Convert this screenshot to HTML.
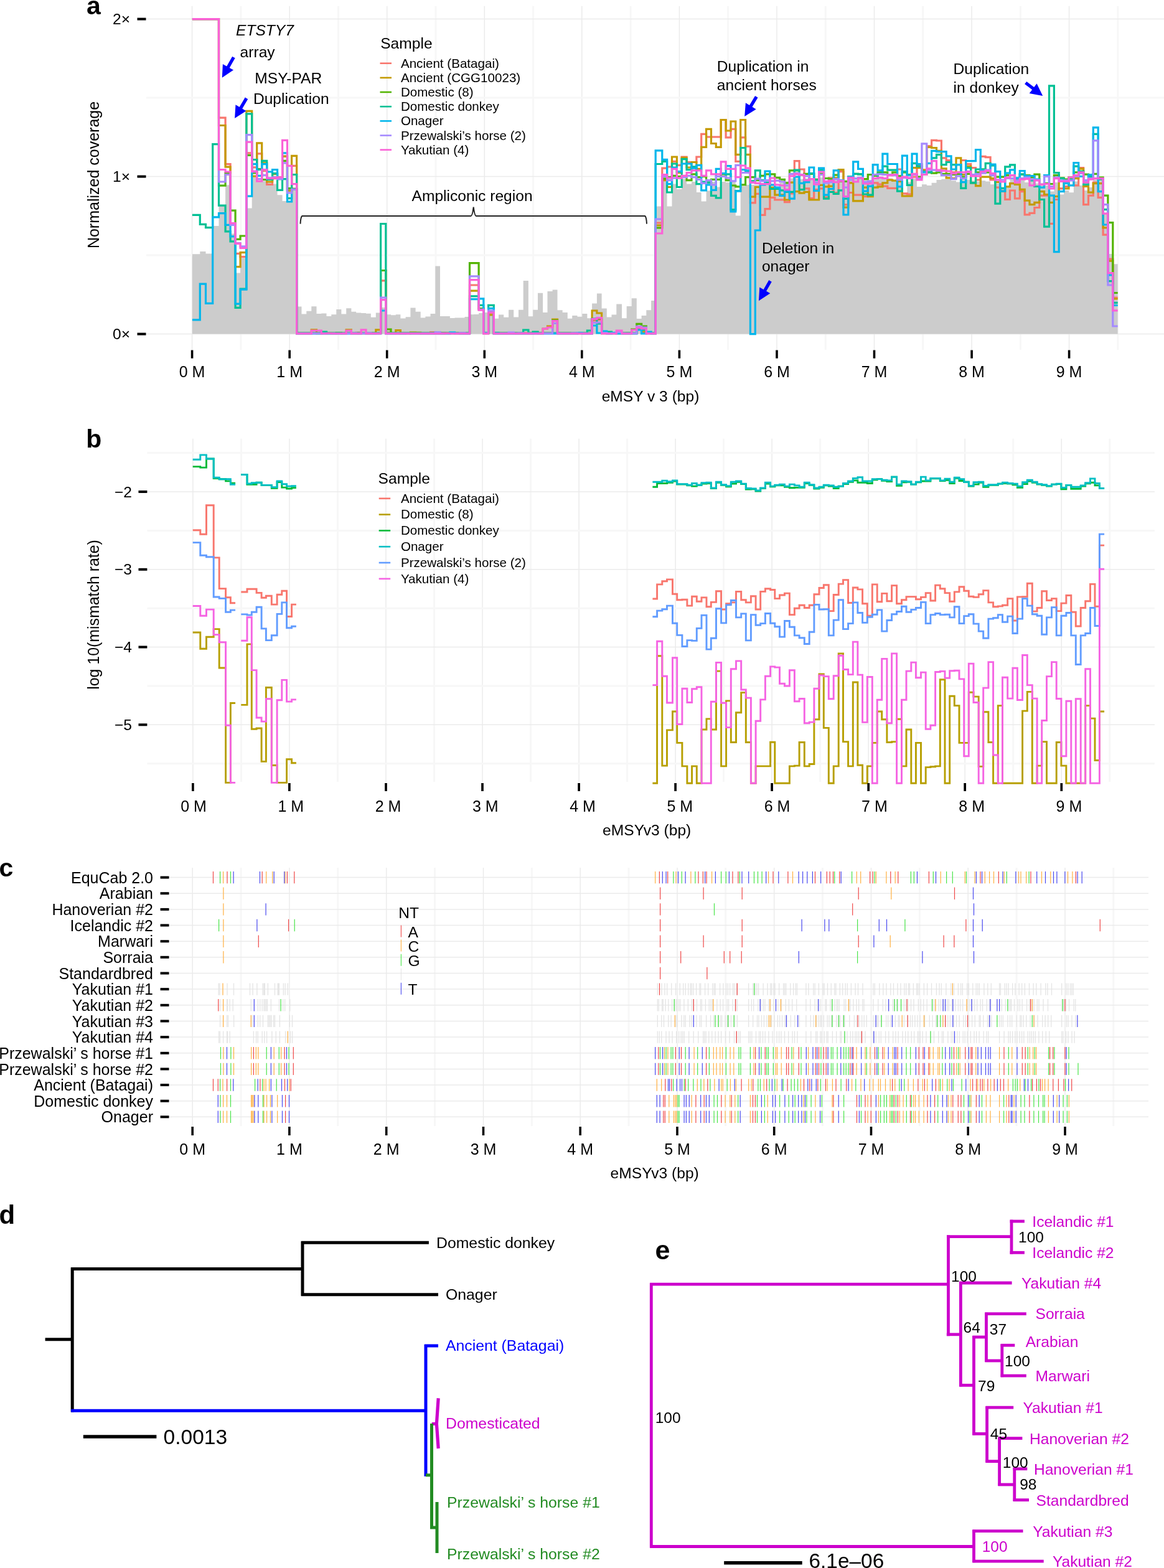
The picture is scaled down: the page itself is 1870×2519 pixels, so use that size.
<!DOCTYPE html>
<html><head><meta charset="utf-8"><title>Figure</title>
<style>html,body{margin:0;padding:0;background:#fff;overflow:hidden;}svg{display:block;}
text{font-family:'Liberation Sans', Arial, Helvetica, sans-serif;}</style></head>
<body><svg width="1870" height="2519" viewBox="0 0 1870 2519">
<rect width="1870" height="2519" fill="#fff"/>
<line x1="308.6" y1="9.7" x2="308.6" y2="562" stroke="#EBEBEB" stroke-width="1.5" />
<line x1="386.9" y1="9.7" x2="386.9" y2="562" stroke="#F7F7F7" stroke-width="3" />
<line x1="465.2" y1="9.7" x2="465.2" y2="562" stroke="#EBEBEB" stroke-width="1.5" />
<line x1="543.4" y1="9.7" x2="543.4" y2="562" stroke="#F7F7F7" stroke-width="3" />
<line x1="621.7" y1="9.7" x2="621.7" y2="562" stroke="#EBEBEB" stroke-width="1.5" />
<line x1="700" y1="9.7" x2="700" y2="562" stroke="#F7F7F7" stroke-width="3" />
<line x1="778.3" y1="9.7" x2="778.3" y2="562" stroke="#EBEBEB" stroke-width="1.5" />
<line x1="856.6" y1="9.7" x2="856.6" y2="562" stroke="#F7F7F7" stroke-width="3" />
<line x1="934.8" y1="9.7" x2="934.8" y2="562" stroke="#EBEBEB" stroke-width="1.5" />
<line x1="1013.1" y1="9.7" x2="1013.1" y2="562" stroke="#F7F7F7" stroke-width="3" />
<line x1="1091.4" y1="9.7" x2="1091.4" y2="562" stroke="#EBEBEB" stroke-width="1.5" />
<line x1="1169.7" y1="9.7" x2="1169.7" y2="562" stroke="#F7F7F7" stroke-width="3" />
<line x1="1248" y1="9.7" x2="1248" y2="562" stroke="#EBEBEB" stroke-width="1.5" />
<line x1="1326.2" y1="9.7" x2="1326.2" y2="562" stroke="#F7F7F7" stroke-width="3" />
<line x1="1404.5" y1="9.7" x2="1404.5" y2="562" stroke="#EBEBEB" stroke-width="1.5" />
<line x1="1482.8" y1="9.7" x2="1482.8" y2="562" stroke="#F7F7F7" stroke-width="3" />
<line x1="1561.1" y1="9.7" x2="1561.1" y2="562" stroke="#EBEBEB" stroke-width="1.5" />
<line x1="1639.4" y1="9.7" x2="1639.4" y2="562" stroke="#F7F7F7" stroke-width="3" />
<line x1="1717.6" y1="9.7" x2="1717.6" y2="562" stroke="#EBEBEB" stroke-width="1.5" />
<line x1="1795.9" y1="9.7" x2="1795.9" y2="562" stroke="#F7F7F7" stroke-width="3" />
<line x1="235" y1="536.6" x2="1870" y2="536.6" stroke="#EBEBEB" stroke-width="1.5" />
<line x1="235" y1="410.1" x2="1870" y2="410.1" stroke="#F7F7F7" stroke-width="3" />
<line x1="235" y1="283.6" x2="1870" y2="283.6" stroke="#EBEBEB" stroke-width="1.5" />
<line x1="235" y1="157.1" x2="1870" y2="157.1" stroke="#F7F7F7" stroke-width="3" />
<line x1="235" y1="30.6" x2="1870" y2="30.6" stroke="#EBEBEB" stroke-width="1.5" />
<path d="M308.9,536.6L308.9,408.3L321.3,408.3L321.3,403.9L330.5,403.9L330.5,407.4L341.7,407.4L341.7,363L351.5,363L351.5,331.1L362.1,331.1L362.1,297.3L370.1,297.3L370.1,375.5L378.1,375.5L378.1,438.5L386.1,438.5L386.1,414.5L395.9,414.5L395.9,334.6L404.7,334.6L404.7,284.9L412.7,284.9L412.7,290.2L420.7,290.2L420.7,290.2L428.7,290.2L428.7,292L437.6,292L437.6,295.6L445.6,295.6L445.6,313.3L453.6,313.3L453.6,323.1L461.5,323.1L461.5,324L468.6,324L468.6,300.9L476.6,300.9L476.6,368L478.2,368L478.2,492.6L484.5,492.6L484.5,504.4L492.3,504.4L492.3,499.8L500.3,499.8L500.3,492.2L508.5,492.2L508.5,504L516.3,504L516.3,503.5L524.5,503.5L524.5,508L532.3,508L532.3,505.3L540.3,505.3L540.3,497.1L548.4,497.1L548.4,504.4L556.2,504.4L556.2,495.3L564.4,495.3L564.4,500.8L572.2,500.8L572.2,502.6L580.2,502.6L580.2,503.1L588,503.1L588,503.8L595.8,503.8L595.8,509.8L603.8,509.8L603.8,502.6L611.6,502.6L611.6,494L619.8,494L619.8,505.3L628,505.3L628,506.2L635.8,506.2L635.8,505.3L643.4,505.3L643.4,511.6L651.6,511.6L651.6,509.3L659.4,509.3L659.4,494.4L667.6,494.4L667.6,500.8L675.7,500.8L675.7,510.4L683.4,510.4L683.4,508.6L691.5,508.6L691.5,504L699.3,504L699.3,427.6L707,427.6L707,508L715.1,508L715.1,508L722.9,508L722.9,511.1L730.6,511.1L730.6,510.4L738.7,510.4L738.7,510.4L746.5,510.4L746.5,508.9L754.5,508.9L754.5,505.3L761.3,505.3L761.3,505L769.1,505L769.1,503L776.8,503L776.8,502L784.6,502L784.6,504L793.3,504L793.3,511.7L801,511.7L801,505.5L809.2,505.5L809.2,509.8L817.1,509.8L817.1,497.8L825.2,497.8L825.2,509.4L833,509.4L833,497.8L840.7,497.8L840.7,450.9L848.9,450.9L848.9,508.2L856.2,508.2L856.2,497.8L864,497.8L864,470.7L872.1,470.7L872.1,502L879.5,502L879.5,468.1L887.6,468.1L887.6,465.6L895.5,465.6L895.5,498.2L903.7,498.2L903.7,502L911.8,502L911.8,511.7L919.2,511.7L919.2,506.9L927.5,506.9L927.5,508.8L935.3,508.8L935.3,504L943.4,504L943.4,511.3L951.1,511.3L951.1,487.5L958.9,487.5L958.9,471.4L966.6,471.4L966.6,495.4L974.8,495.4L974.8,509.4L982.5,509.4L982.5,505.5L990.3,505.5L990.3,488.5L999,488.5L999,511.3L1006.7,511.3L1006.7,492L1014.7,492L1014.7,479.2L1022.8,479.2L1022.8,512.1L1030.6,512.1L1030.6,506.9L1038.3,506.9L1038.3,498.2L1046.1,498.2L1046.1,483L1053.2,483L1053.2,331.4L1063.8,331.4L1063.8,284.7L1071.6,284.7L1071.6,331.4L1079.5,331.4L1079.5,295.6L1087.4,295.6L1087.4,304.1L1095.2,304.1L1095.2,287.2L1103.1,287.2L1103.1,295.6L1111,295.6L1111,292L1118.9,292L1118.9,309L1126.7,309L1126.7,323.5L1134.6,323.5L1134.6,306.5L1142.5,306.5L1142.5,292L1150.3,292L1150.3,300.5L1158.2,300.5L1158.2,292L1166.1,292L1166.1,293.2L1174,293.2L1174,292L1181.8,292L1181.8,346.5L1189.7,346.5L1189.7,299.3L1197.6,299.3L1197.6,297L1205.4,297L1205.4,297L1213.3,297L1213.3,297L1221.2,297L1221.2,297L1229,297L1229,297L1236.9,297L1236.9,297L1244.8,297L1244.8,301.1L1252.7,301.1L1252.7,293.8L1260.5,293.8L1260.5,291.4L1268.4,291.4L1268.4,286.5L1276.3,286.5L1276.3,286.5L1284.1,286.5L1284.1,287.7L1292,287.7L1292,289L1299.9,289L1299.9,289L1307.7,289L1307.7,286.5L1315.6,286.5L1315.6,285.3L1323.5,285.3L1323.5,292.6L1331.4,292.6L1331.4,289L1339.2,289L1339.2,286.5L1347.1,286.5L1347.1,289L1355,289L1355,291.4L1362.8,291.4L1362.8,286.5L1370.7,286.5L1370.7,285.3L1378.6,285.3L1378.6,286.5L1386.4,286.5L1386.4,289L1394.3,289L1394.3,289L1402.2,289L1402.2,285.3L1410.1,285.3L1410.1,284.1L1417.9,284.1L1417.9,285.3L1425.8,285.3L1425.8,286.5L1433.7,286.5L1433.7,290.2L1441.5,290.2L1441.5,290.2L1449.4,290.2L1449.4,312.6L1457.3,312.6L1457.3,292.6L1465.1,292.6L1465.1,286.5L1473,286.5L1473,299.9L1480.9,299.9L1480.9,296.2L1488.8,296.2L1488.8,298L1496.6,298L1496.6,293.8L1504.5,293.8L1504.5,289L1512.4,289L1512.4,287.7L1520.2,287.7L1520.2,287.7L1528.1,287.7L1528.1,290.2L1536,290.2L1536,292.6L1543.8,292.6L1543.8,287.7L1551.7,287.7L1551.7,289L1559.6,289L1559.6,290.2L1567.5,290.2L1567.5,291.4L1575.3,291.4L1575.3,290.2L1583.2,290.2L1583.2,291.4L1591.1,291.4L1591.1,296.2L1598.9,296.2L1598.9,295L1606.8,295L1606.8,301.1L1614.7,301.1L1614.7,301.1L1622.5,301.1L1622.5,288.2L1630.4,288.2L1630.4,289.8L1638.3,289.8L1638.3,289.8L1646.2,289.8L1646.2,293.1L1654,293.1L1654,291.4L1661.9,291.4L1661.9,294.7L1669.8,294.7L1669.8,296.3L1677.6,296.3L1677.6,297.9L1685.5,297.9L1685.5,307.6L1693.4,307.6L1693.4,293.1L1701.2,293.1L1701.2,312.5L1709.1,312.5L1709.1,306L1717,306L1717,309.2L1724.9,309.2L1724.9,291.4L1732.7,291.4L1732.7,297.9L1740.6,297.9L1740.6,306L1748.5,306L1748.5,301.1L1756.3,301.1L1756.3,288.2L1764.2,288.2L1764.2,289.8L1772.1,289.8L1772.1,343.2L1779.9,343.2L1779.9,407.9L1787.8,407.9L1787.8,424.2L1795.7,424.2L1795.7,536.6Z" fill="#CCCCCC"/>
<path d="M308.9,30.6L321.3,30.6L321.3,30.6L330.5,30.6L330.5,30.6L341.7,30.6L341.7,30.6L351.5,30.6L351.5,189.1L362.1,189.1L362.1,263.6L370.1,263.6L370.1,361.3L378.1,361.3L378.1,407.4L386.1,407.4L386.1,412.7L395.9,412.7L395.9,245.9L404.7,245.9L404.7,268.9L412.7,268.9L412.7,246.8L420.7,246.8L420.7,274.3L428.7,274.3L428.7,296.5L437.6,296.5L437.6,286.7L445.6,286.7L445.6,284.9L453.6,284.9L453.6,251.2L461.5,251.2L461.5,306.2L468.6,306.2L468.6,266.3L476.6,266.3L476.6,535.2L478.2,535.2L478.2,535.2L484.5,535.2L484.5,535.2L492.3,535.2L492.3,535.2L500.3,535.2L500.3,535.2L508.5,535.2L508.5,534.6L516.3,534.6L516.3,533.6L524.5,533.6L524.5,535.2L532.3,535.2L532.3,535.2L540.3,535.2L540.3,535.2L548.4,535.2L548.4,535.2L556.2,535.2L556.2,535.2L564.4,535.2L564.4,535.2L572.2,535.2L572.2,534.3L580.2,534.3L580.2,535.2L588,535.2L588,535.2L595.8,535.2L595.8,535.2L603.8,535.2L603.8,535.2L611.6,535.2L611.6,450.8L619.8,450.8L619.8,535.2L628,535.2L628,535.2L635.8,535.2L635.8,535.2L643.4,535.2L643.4,535.2L651.6,535.2L651.6,535.2L659.4,535.2L659.4,535.2L667.6,535.2L667.6,534.8L675.7,534.8L675.7,535.2L683.4,535.2L683.4,535.2L691.5,535.2L691.5,533.9L699.3,533.9L699.3,535.2L707,535.2L707,534.5L715.1,534.5L715.1,535.2L722.9,535.2L722.9,535.2L730.6,535.2L730.6,535.2L738.7,535.2L738.7,535.2L746.5,535.2L746.5,535.2L754.5,535.2L754.5,458L769.1,458L769.1,497L776.8,497L776.8,535.2L784.6,535.2L784.6,503L793.3,503L793.3,535.2L801,535.2L801,535.2L809.2,535.2L809.2,535.2L817.1,535.2L817.1,535.2L825.2,535.2L825.2,535.2L833,535.2L833,535.2L840.7,535.2L840.7,535.2L848.9,535.2L848.9,535.2L856.2,535.2L856.2,534L864,534L864,535.2L872.1,535.2L872.1,535.2L879.5,535.2L879.5,535.2L887.6,535.2L887.6,514.6L895.5,514.6L895.5,535.2L903.7,535.2L903.7,535.2L911.8,535.2L911.8,535.2L919.2,535.2L919.2,535.2L927.5,535.2L927.5,535.2L935.3,535.2L935.3,535.2L943.4,535.2L943.4,535.2L951.1,535.2L951.1,515L958.9,515L958.9,514L966.6,514L966.6,535.2L974.8,535.2L974.8,535.2L982.5,535.2L982.5,535.2L990.3,535.2L990.3,534.7L999,534.7L999,535.2L1006.7,535.2L1006.7,535.2L1014.7,535.2L1014.7,535.2L1022.8,535.2L1022.8,528L1030.6,528L1030.6,535.2L1038.3,535.2L1038.3,535.2L1046.1,535.2L1046.1,535.2L1053.2,535.2L1053.2,358L1063.8,358L1063.8,270.2L1071.6,270.2L1071.6,268L1079.5,268L1079.5,259.3L1087.4,259.3L1087.4,265.4L1095.2,265.4L1095.2,252L1103.1,252L1103.1,260.5L1111,260.5L1111,260.5L1118.9,260.5L1118.9,252L1126.7,252L1126.7,215.3L1134.6,215.3L1134.6,220L1142.5,220L1142.5,220L1150.3,220L1150.3,220L1158.2,220L1158.2,192.5L1166.1,192.5L1166.1,220.8L1174,220.8L1174,207.4L1181.8,207.4L1181.8,259.3L1189.7,259.3L1189.7,220.8L1197.6,220.8L1197.6,235.1L1205.4,235.1L1205.4,325.9L1213.3,325.9L1213.3,311.4L1221.2,311.4L1221.2,345.3L1229,345.3L1229,335.6L1236.9,335.6L1236.9,317.4L1244.8,317.4L1244.8,321L1252.7,321L1252.7,321L1260.5,321L1260.5,324.7L1268.4,324.7L1268.4,310.8L1276.3,310.8L1276.3,258.7L1284.1,258.7L1284.1,272L1292,272L1292,302.9L1299.9,302.9L1299.9,318.6L1307.7,318.6L1307.7,304.7L1315.6,304.7L1315.6,302.9L1323.5,302.9L1323.5,316.8L1331.4,316.8L1331.4,285.9L1339.2,285.9L1339.2,309.5L1347.1,309.5L1347.1,275.6L1355,275.6L1355,328.9L1362.8,328.9L1362.8,309.5L1370.7,309.5L1370.7,313.2L1378.6,313.2L1378.6,313.2L1386.4,313.2L1386.4,315.6L1394.3,315.6L1394.3,293.8L1402.2,293.8L1402.2,293.8L1410.1,293.8L1410.1,296.2L1417.9,296.2L1417.9,299.2L1425.8,299.2L1425.8,302.3L1433.7,302.3L1433.7,302.3L1441.5,302.3L1441.5,272L1449.4,272L1449.4,310.8L1457.3,310.8L1457.3,312L1465.1,312L1465.1,284.1L1473,284.1L1473,264.7L1480.9,264.7L1480.9,273.2L1488.8,273.2L1488.8,234.5L1496.6,234.5L1496.6,225.4L1504.5,225.4L1504.5,226L1512.4,226L1512.4,253.8L1520.2,253.8L1520.2,257.5L1528.1,257.5L1528.1,276.9L1536,276.9L1536,276.9L1543.8,276.9L1543.8,257.5L1551.7,257.5L1551.7,263.5L1559.6,263.5L1559.6,269.6L1567.5,269.6L1567.5,289L1575.3,289L1575.3,251.4L1583.2,251.4L1583.2,252.6L1591.1,252.6L1591.1,289L1598.9,289L1598.9,301.1L1606.8,301.1L1606.8,307.1L1614.7,307.1L1614.7,320.4L1622.5,320.4L1622.5,306L1630.4,306L1630.4,318.9L1638.3,318.9L1638.3,307.6L1646.2,307.6L1646.2,344.8L1654,344.8L1654,342.4L1661.9,342.4L1661.9,333.5L1669.8,333.5L1669.8,314.1L1677.6,314.1L1677.6,314.1L1685.5,314.1L1685.5,359.4L1693.4,359.4L1693.4,320.5L1701.2,320.5L1701.2,302.8L1709.1,302.8L1709.1,299.5L1717,299.5L1717,285L1724.9,285L1724.9,297.9L1732.7,297.9L1732.7,269.6L1740.6,269.6L1740.6,328.6L1748.5,328.6L1748.5,314.1L1756.3,314.1L1756.3,293.1L1764.2,293.1L1764.2,317.3L1772.1,317.3L1772.1,377.2L1779.9,377.2L1779.9,416L1787.8,416L1787.8,478L1795.7,478" fill="none" stroke="#F8766D" stroke-width="3.2" stroke-linejoin="miter"/>
<path d="M308.9,30.6L321.3,30.6L321.3,30.6L330.5,30.6L330.5,30.6L341.7,30.6L341.7,30.6L351.5,30.6L351.5,201.5L362.1,201.5L362.1,268.1L370.1,268.1L370.1,361.3L378.1,361.3L378.1,428.7L386.1,428.7L386.1,405.6L395.9,405.6L395.9,178.4L404.7,178.4L404.7,283.1L412.7,283.1L412.7,229.9L420.7,229.9L420.7,261.8L428.7,261.8L428.7,292L437.6,292L437.6,279.6L445.6,279.6L445.6,284.9L453.6,284.9L453.6,251.2L461.5,251.2L461.5,306.2L468.6,306.2L468.6,250.3L476.6,250.3L476.6,535.6L478.2,535.6L478.2,535.6L484.5,535.6L484.5,535.6L492.3,535.6L492.3,535.6L500.3,535.6L500.3,529.8L508.5,529.8L508.5,535.6L516.3,535.6L516.3,534.3L524.5,534.3L524.5,535.6L532.3,535.6L532.3,535.6L540.3,535.6L540.3,534.5L548.4,534.5L548.4,535.6L556.2,535.6L556.2,529.8L564.4,529.8L564.4,535.6L572.2,535.6L572.2,535.6L580.2,535.6L580.2,535.6L588,535.6L588,535.6L595.8,535.6L595.8,535.6L603.8,535.6L603.8,529.8L611.6,529.8L611.6,434.5L619.8,434.5L619.8,534.3L628,534.3L628,535.6L635.8,535.6L635.8,530.7L643.4,530.7L643.4,535.6L651.6,535.6L651.6,535.6L659.4,535.6L659.4,534.1L667.6,534.1L667.6,534.4L675.7,534.4L675.7,535.6L683.4,535.6L683.4,535.6L691.5,535.6L691.5,535.6L699.3,535.6L699.3,535.6L707,535.6L707,535.6L715.1,535.6L715.1,535.6L722.9,535.6L722.9,535.6L730.6,535.6L730.6,535.6L738.7,535.6L738.7,535.6L746.5,535.6L746.5,535.6L754.5,535.6L754.5,467.2L769.1,467.2L769.1,496L776.8,496L776.8,535.6L784.6,535.6L784.6,505.9L793.3,505.9L793.3,535.6L801,535.6L801,535.6L809.2,535.6L809.2,535.6L817.1,535.6L817.1,535.6L825.2,535.6L825.2,535.6L833,535.6L833,535.6L840.7,535.6L840.7,535.6L848.9,535.6L848.9,535.6L856.2,535.6L856.2,535.5L864,535.5L864,535.6L872.1,535.6L872.1,528L879.5,528L879.5,524L887.6,524L887.6,513L895.5,513L895.5,535.6L903.7,535.6L903.7,535.6L911.8,535.6L911.8,535.6L919.2,535.6L919.2,535.6L927.5,535.6L927.5,535.6L935.3,535.6L935.3,535.6L943.4,535.6L943.4,535.6L951.1,535.6L951.1,499L958.9,499L958.9,503L966.6,503L966.6,535.6L974.8,535.6L974.8,535.6L982.5,535.6L982.5,535.6L990.3,535.6L990.3,535.6L999,535.6L999,535.6L1006.7,535.6L1006.7,535.6L1014.7,535.6L1014.7,535.6L1022.8,535.6L1022.8,527L1030.6,527L1030.6,533L1038.3,533L1038.3,535.6L1046.1,535.6L1046.1,535.6L1053.2,535.6L1053.2,362L1063.8,362L1063.8,289.6L1071.6,289.6L1071.6,300.5L1079.5,300.5L1079.5,252L1087.4,252L1087.4,277.5L1095.2,277.5L1095.2,253.3L1103.1,253.3L1103.1,269L1111,269L1111,260.5L1118.9,260.5L1118.9,271.4L1126.7,271.4L1126.7,236.3L1134.6,236.3L1134.6,207.4L1142.5,207.4L1142.5,230.5L1150.3,230.5L1150.3,236.3L1158.2,236.3L1158.2,192.5L1166.1,192.5L1166.1,210L1174,210L1174,195L1181.8,195L1181.8,248.4L1189.7,248.4L1189.7,192.5L1197.6,192.5L1197.6,248.4L1205.4,248.4L1205.4,316.2L1213.3,316.2L1213.3,300.5L1221.2,300.5L1221.2,316.2L1229,316.2L1229,316.2L1236.9,316.2L1236.9,301.7L1244.8,301.7L1244.8,313.2L1252.7,313.2L1252.7,313.2L1260.5,313.2L1260.5,321L1268.4,321L1268.4,293.2L1276.3,293.2L1276.3,307.7L1284.1,307.7L1284.1,310.1L1292,310.1L1292,308.3L1299.9,308.3L1299.9,321L1307.7,321L1307.7,321L1315.6,321L1315.6,297.4L1323.5,297.4L1323.5,299.9L1331.4,299.9L1331.4,299.2L1339.2,299.2L1339.2,285.9L1347.1,285.9L1347.1,272.6L1355,272.6L1355,333.1L1362.8,333.1L1362.8,293.8L1370.7,293.8L1370.7,322.9L1378.6,322.9L1378.6,322.9L1386.4,322.9L1386.4,301.1L1394.3,301.1L1394.3,315.6L1402.2,315.6L1402.2,301.1L1410.1,301.1L1410.1,299.9L1417.9,299.9L1417.9,293.8L1425.8,293.8L1425.8,289L1433.7,289L1433.7,290.2L1441.5,290.2L1441.5,291.4L1449.4,291.4L1449.4,315L1457.3,315L1457.3,315L1465.1,315L1465.1,269.6L1473,269.6L1473,269.6L1480.9,269.6L1480.9,273.2L1488.8,273.2L1488.8,236.3L1496.6,236.3L1496.6,237.5L1504.5,237.5L1504.5,242.3L1512.4,242.3L1512.4,270.8L1520.2,270.8L1520.2,285.9L1528.1,285.9L1528.1,286.5L1536,286.5L1536,253.8L1543.8,253.8L1543.8,280.5L1551.7,280.5L1551.7,267.2L1559.6,267.2L1559.6,293.8L1567.5,293.8L1567.5,298.6L1575.3,298.6L1575.3,284.1L1583.2,284.1L1583.2,284.1L1591.1,284.1L1591.1,286.5L1598.9,286.5L1598.9,292.6L1606.8,292.6L1606.8,307.1L1614.7,307.1L1614.7,299.9L1622.5,299.9L1622.5,294.7L1630.4,294.7L1630.4,296.3L1638.3,296.3L1638.3,304.4L1646.2,304.4L1646.2,322.2L1654,322.2L1654,328.6L1661.9,328.6L1661.9,325.4L1669.8,325.4L1669.8,307.6L1677.6,307.6L1677.6,312.5L1685.5,312.5L1685.5,325.4L1693.4,325.4L1693.4,315.7L1701.2,315.7L1701.2,291.4L1709.1,291.4L1709.1,302.8L1717,302.8L1717,286.6L1724.9,286.6L1724.9,286.6L1732.7,286.6L1732.7,271.2L1740.6,271.2L1740.6,299.5L1748.5,299.5L1748.5,309.2L1756.3,309.2L1756.3,294.7L1764.2,294.7L1764.2,294.7L1772.1,294.7L1772.1,365.8L1779.9,365.8L1779.9,419.2L1787.8,419.2L1787.8,480L1795.7,480" fill="none" stroke="#C49A00" stroke-width="3.2" stroke-linejoin="miter"/>
<path d="M308.9,30.6L321.3,30.6L321.3,30.6L330.5,30.6L330.5,30.6L341.7,30.6L341.7,30.6L351.5,30.6L351.5,298.2L362.1,298.2L362.1,277.8L370.1,277.8L370.1,338.2L378.1,338.2L378.1,384.3L386.1,384.3L386.1,379L395.9,379L395.9,249.4L404.7,249.4L404.7,277.8L412.7,277.8L412.7,271.6L420.7,271.6L420.7,288.5L428.7,288.5L428.7,288.5L437.6,288.5L437.6,284.9L445.6,284.9L445.6,287.6L453.6,287.6L453.6,258.3L461.5,258.3L461.5,302.7L468.6,302.7L468.6,303.6L476.6,303.6L476.6,535.4L478.2,535.4L478.2,535.4L484.5,535.4L484.5,535.4L492.3,535.4L492.3,535.4L500.3,535.4L500.3,535.4L508.5,535.4L508.5,535.4L516.3,535.4L516.3,535.4L524.5,535.4L524.5,535.4L532.3,535.4L532.3,535.4L540.3,535.4L540.3,534.5L548.4,534.5L548.4,535.4L556.2,535.4L556.2,535.4L564.4,535.4L564.4,535.4L572.2,535.4L572.2,535.4L580.2,535.4L580.2,535.4L588,535.4L588,535.4L595.8,535.4L595.8,535.4L603.8,535.4L603.8,535.4L611.6,535.4L611.6,434.5L619.8,434.5L619.8,529L628,529L628,535.4L635.8,535.4L635.8,535.4L643.4,535.4L643.4,535.4L651.6,535.4L651.6,535.4L659.4,535.4L659.4,535.4L667.6,535.4L667.6,535.4L675.7,535.4L675.7,535.4L683.4,535.4L683.4,535.4L691.5,535.4L691.5,535.4L699.3,535.4L699.3,535.4L707,535.4L707,535.4L715.1,535.4L715.1,535.4L722.9,535.4L722.9,535.4L730.6,535.4L730.6,535.4L738.7,535.4L738.7,535.4L746.5,535.4L746.5,535.4L754.5,535.4L754.5,422.6L769.1,422.6L769.1,495.5L776.8,495.5L776.8,535.4L784.6,535.4L784.6,501L793.3,501L793.3,535.4L801,535.4L801,535.4L809.2,535.4L809.2,535.4L817.1,535.4L817.1,535.4L825.2,535.4L825.2,535.4L833,535.4L833,535.4L840.7,535.4L840.7,535.4L848.9,535.4L848.9,535.4L856.2,535.4L856.2,535.4L864,535.4L864,535.4L872.1,535.4L872.1,535.4L879.5,535.4L879.5,535.4L887.6,535.4L887.6,514.6L895.5,514.6L895.5,535.4L903.7,535.4L903.7,535.4L911.8,535.4L911.8,535.4L919.2,535.4L919.2,535.4L927.5,535.4L927.5,535.4L935.3,535.4L935.3,535.4L943.4,535.4L943.4,535.4L951.1,535.4L951.1,513L958.9,513L958.9,512L966.6,512L966.6,535.4L974.8,535.4L974.8,535.4L982.5,535.4L982.5,535.4L990.3,535.4L990.3,535.4L999,535.4L999,535.4L1006.7,535.4L1006.7,535L1014.7,535L1014.7,529L1022.8,529L1022.8,520.4L1030.6,520.4L1030.6,524L1038.3,524L1038.3,535.4L1046.1,535.4L1046.1,535.4L1053.2,535.4L1053.2,366L1063.8,366L1063.8,287.2L1071.6,287.2L1071.6,284.7L1079.5,284.7L1079.5,282.3L1087.4,282.3L1087.4,283.5L1095.2,283.5L1095.2,283.5L1103.1,283.5L1103.1,289.6L1111,289.6L1111,279.9L1118.9,279.9L1118.9,284.7L1126.7,284.7L1126.7,283.5L1134.6,283.5L1134.6,293.2L1142.5,293.2L1142.5,288.4L1150.3,288.4L1150.3,288.4L1158.2,288.4L1158.2,279.9L1166.1,279.9L1166.1,289.6L1174,289.6L1174,298L1181.8,298L1181.8,299.9L1189.7,299.9L1189.7,296.9L1197.6,296.9L1197.6,284.7L1205.4,284.7L1205.4,284.7L1213.3,284.7L1213.3,289.6L1221.2,289.6L1221.2,282.3L1229,282.3L1229,279.9L1236.9,279.9L1236.9,279.9L1244.8,279.9L1244.8,285.3L1252.7,285.3L1252.7,288.4L1260.5,288.4L1260.5,293.8L1268.4,293.8L1268.4,273.8L1276.3,273.8L1276.3,273.8L1284.1,273.8L1284.1,281.1L1292,281.1L1292,279.3L1299.9,279.3L1299.9,279.3L1307.7,279.3L1307.7,288.4L1315.6,288.4L1315.6,279.3L1323.5,279.3L1323.5,286.5L1331.4,286.5L1331.4,287.7L1339.2,287.7L1339.2,281.1L1347.1,281.1L1347.1,291.4L1355,291.4L1355,291.4L1362.8,291.4L1362.8,284.1L1370.7,284.1L1370.7,279.3L1378.6,279.3L1378.6,279.9L1386.4,279.9L1386.4,287.7L1394.3,287.7L1394.3,280.5L1402.2,280.5L1402.2,282.3L1410.1,282.3L1410.1,276.9L1417.9,276.9L1417.9,276.9L1425.8,276.9L1425.8,280.5L1433.7,280.5L1433.7,276.9L1441.5,276.9L1441.5,282.9L1449.4,282.9L1449.4,276.9L1457.3,276.9L1457.3,280.5L1465.1,280.5L1465.1,280.5L1473,280.5L1473,284.1L1480.9,284.1L1480.9,280.5L1488.8,280.5L1488.8,276.9L1496.6,276.9L1496.6,278.1L1504.5,278.1L1504.5,276.9L1512.4,276.9L1512.4,279.3L1520.2,279.3L1520.2,279.3L1528.1,279.3L1528.1,280.5L1536,280.5L1536,279.3L1543.8,279.3L1543.8,284.1L1551.7,284.1L1551.7,279.3L1559.6,279.3L1559.6,280.5L1567.5,280.5L1567.5,276.9L1575.3,276.9L1575.3,272L1583.2,272L1583.2,276.9L1591.1,276.9L1591.1,281.7L1598.9,281.7L1598.9,284.1L1606.8,284.1L1606.8,284.1L1614.7,284.1L1614.7,281.7L1622.5,281.7L1622.5,281.7L1630.4,281.7L1630.4,288.2L1638.3,288.2L1638.3,280.1L1646.2,280.1L1646.2,281.7L1654,281.7L1654,285L1661.9,285L1661.9,280.1L1669.8,280.1L1669.8,296.3L1677.6,296.3L1677.6,294.7L1685.5,294.7L1685.5,295.5L1693.4,295.5L1693.4,281.7L1701.2,281.7L1701.2,285.8L1709.1,285.8L1709.1,288.2L1717,288.2L1717,285L1724.9,285L1724.9,276.9L1732.7,276.9L1732.7,275.3L1740.6,275.3L1740.6,280.1L1748.5,280.1L1748.5,281.7L1756.3,281.7L1756.3,279.3L1764.2,279.3L1764.2,285L1772.1,285L1772.1,314.1L1779.9,314.1L1779.9,357.7L1787.8,357.7L1787.8,470.5L1795.7,470.5" fill="none" stroke="#53B400" stroke-width="3.2" stroke-linejoin="miter"/>
<path d="M308.9,345.3L321.3,345.3L321.3,360.4L330.5,360.4L330.5,365.7L341.7,365.7L341.7,231.7L351.5,231.7L351.5,330.2L362.1,330.2L362.1,371.9L370.1,371.9L370.1,387.9L378.1,387.9L378.1,494.4L386.1,494.4L386.1,464.2L395.9,464.2L395.9,182.8L404.7,182.8L404.7,256.5L412.7,256.5L412.7,272.5L420.7,272.5L420.7,258.3L428.7,258.3L428.7,288.5L437.6,288.5L437.6,278.7L445.6,278.7L445.6,305.3L453.6,305.3L453.6,287.6L461.5,287.6L461.5,318.6L468.6,318.6L468.6,280.5L476.6,280.5L476.6,535L478.2,535L478.2,535L484.5,535L484.5,535L492.3,535L492.3,535L500.3,535L500.3,535L508.5,535L508.5,535L516.3,535L516.3,533.1L524.5,533.1L524.5,535L532.3,535L532.3,535L540.3,535L540.3,535L548.4,535L548.4,535L556.2,535L556.2,535L564.4,535L564.4,535L572.2,535L572.2,535L580.2,535L580.2,535L588,535L588,535L595.8,535L595.8,535L603.8,535L603.8,535L611.6,535L611.6,359.5L619.8,359.5L619.8,535L628,535L628,535L635.8,535L635.8,535L643.4,535L643.4,535L651.6,535L651.6,535L659.4,535L659.4,535L667.6,535L667.6,535L675.7,535L675.7,535L683.4,535L683.4,535L691.5,535L691.5,535L699.3,535L699.3,534.3L707,534.3L707,535L715.1,535L715.1,535L722.9,535L722.9,535L730.6,535L730.6,535L738.7,535L738.7,535L746.5,535L746.5,535L754.5,535L754.5,475.9L769.1,475.9L769.1,490.4L776.8,490.4L776.8,535L784.6,535L784.6,490.4L793.3,490.4L793.3,534.6L801,534.6L801,535L809.2,535L809.2,535L817.1,535L817.1,535L825.2,535L825.2,535L833,535L833,535L840.7,535L840.7,530L848.9,530L848.9,535L856.2,535L856.2,533.1L864,533.1L864,535L872.1,535L872.1,535L879.5,535L879.5,535L887.6,535L887.6,535L895.5,535L895.5,535L903.7,535L903.7,535L911.8,535L911.8,535L919.2,535L919.2,535L927.5,535L927.5,535L935.3,535L935.3,535L943.4,535L943.4,531L951.1,531L951.1,512L958.9,512L958.9,520L966.6,520L966.6,535L974.8,535L974.8,533.2L982.5,533.2L982.5,535L990.3,535L990.3,535L999,535L999,535L1006.7,535L1006.7,535L1014.7,535L1014.7,535L1022.8,535L1022.8,526L1030.6,526L1030.6,530L1038.3,530L1038.3,535L1046.1,535L1046.1,535L1053.2,535L1053.2,263.5L1063.8,263.5L1063.8,259.3L1071.6,259.3L1071.6,309L1079.5,309L1079.5,263L1087.4,263L1087.4,300.5L1095.2,300.5L1095.2,255.7L1103.1,255.7L1103.1,272.6L1111,272.6L1111,267.8L1118.9,267.8L1118.9,295.6L1126.7,295.6L1126.7,292L1134.6,292L1134.6,293.2L1142.5,293.2L1142.5,314.4L1150.3,314.4L1150.3,318L1158.2,318L1158.2,283.5L1166.1,283.5L1166.1,279.9L1174,279.9L1174,336.8L1181.8,336.8L1181.8,306.5L1189.7,306.5L1189.7,237.5L1197.6,237.5L1197.6,275L1205.4,275L1205.4,290.8L1213.3,290.8L1213.3,273.8L1221.2,273.8L1221.2,289.6L1229,289.6L1229,293.2L1236.9,293.2L1236.9,303.5L1244.8,303.5L1244.8,303.5L1252.7,303.5L1252.7,305.9L1260.5,305.9L1260.5,308.3L1268.4,308.3L1268.4,308.3L1276.3,308.3L1276.3,273.2L1284.1,273.2L1284.1,304.7L1292,304.7L1292,289L1299.9,289L1299.9,278.7L1307.7,278.7L1307.7,289L1315.6,289L1315.6,273.2L1323.5,273.2L1323.5,319.2L1331.4,319.2L1331.4,308.3L1339.2,308.3L1339.2,311.4L1347.1,311.4L1347.1,305.9L1355,305.9L1355,319.2L1362.8,319.2L1362.8,284.1L1370.7,284.1L1370.7,279.3L1378.6,279.3L1378.6,279.9L1386.4,279.9L1386.4,312L1394.3,312L1394.3,313.2L1402.2,313.2L1402.2,286.5L1410.1,286.5L1410.1,278.7L1417.9,278.7L1417.9,267.2L1425.8,267.2L1425.8,273.2L1433.7,273.2L1433.7,273.2L1441.5,273.2L1441.5,307.1L1449.4,307.1L1449.4,275.6L1457.3,275.6L1457.3,297.4L1465.1,297.4L1465.1,262.3L1473,262.3L1473,267.2L1480.9,267.2L1480.9,275.6L1488.8,275.6L1488.8,276.9L1496.6,276.9L1496.6,253.8L1504.5,253.8L1504.5,248.4L1512.4,248.4L1512.4,264.7L1520.2,264.7L1520.2,260.5L1528.1,260.5L1528.1,264.7L1536,264.7L1536,264.7L1543.8,264.7L1543.8,302.3L1551.7,302.3L1551.7,269.6L1559.6,269.6L1559.6,293.8L1567.5,293.8L1567.5,272L1575.3,272L1575.3,272L1583.2,272L1583.2,262.3L1591.1,262.3L1591.1,266L1598.9,266L1598.9,327.1L1606.8,327.1L1606.8,302.3L1614.7,302.3L1614.7,267.8L1622.5,267.8L1622.5,264.8L1630.4,264.8L1630.4,288.2L1638.3,288.2L1638.3,280.1L1646.2,280.1L1646.2,283.4L1654,283.4L1654,289.8L1661.9,289.8L1661.9,299.5L1669.8,299.5L1669.8,320.5L1677.6,320.5L1677.6,364.2L1685.5,364.2L1685.5,137.8L1693.4,137.8L1693.4,277.7L1701.2,277.7L1701.2,286.6L1709.1,286.6L1709.1,289.8L1717,289.8L1717,288.2L1724.9,288.2L1724.9,267.2L1732.7,267.2L1732.7,275.3L1740.6,275.3L1740.6,296.3L1748.5,296.3L1748.5,283.4L1756.3,283.4L1756.3,215.4L1764.2,215.4L1764.2,288.2L1772.1,288.2L1772.1,336.7L1779.9,336.7L1779.9,451.6L1787.8,451.6L1787.8,486.3L1795.7,486.3" fill="none" stroke="#00C094" stroke-width="3.2" stroke-linejoin="miter"/>
<path d="M308.9,513.9L321.3,513.9L321.3,456.2L330.5,456.2L330.5,487.3L341.7,487.3L341.7,348.8L351.5,348.8L351.5,342.6L362.1,342.6L362.1,361.3L370.1,361.3L370.1,379.9L378.1,379.9L378.1,488.2L386.1,488.2L386.1,465.1L395.9,465.1L395.9,315.1L404.7,315.1L404.7,263.6L412.7,263.6L412.7,282.3L420.7,282.3L420.7,263.6L428.7,263.6L428.7,276L437.6,276L437.6,272.5L445.6,272.5L445.6,286.7L453.6,286.7L453.6,245.9L461.5,245.9L461.5,324L468.6,324L468.6,304.4L476.6,304.4L476.6,535.8L478.2,535.8L478.2,535.8L484.5,535.8L484.5,535.8L492.3,535.8L492.3,535.8L500.3,535.8L500.3,535.8L508.5,535.8L508.5,535.8L516.3,535.8L516.3,535.8L524.5,535.8L524.5,535.8L532.3,535.8L532.3,535.8L540.3,535.8L540.3,535.8L548.4,535.8L548.4,535.8L556.2,535.8L556.2,535.8L564.4,535.8L564.4,535.8L572.2,535.8L572.2,535.8L580.2,535.8L580.2,535.7L588,535.7L588,535.8L595.8,535.8L595.8,535.8L603.8,535.8L603.8,535.8L611.6,535.8L611.6,499L619.8,499L619.8,535.8L628,535.8L628,535.8L635.8,535.8L635.8,535.8L643.4,535.8L643.4,535.8L651.6,535.8L651.6,535.6L659.4,535.6L659.4,535.8L667.6,535.8L667.6,535.8L675.7,535.8L675.7,535.8L683.4,535.8L683.4,535.8L691.5,535.8L691.5,535.8L699.3,535.8L699.3,535.8L707,535.8L707,535.8L715.1,535.8L715.1,535.8L722.9,535.8L722.9,534L730.6,534L730.6,535.6L738.7,535.6L738.7,535.8L746.5,535.8L746.5,535.8L754.5,535.8L754.5,480.7L769.1,480.7L769.1,479.8L776.8,479.8L776.8,535.2L784.6,535.2L784.6,495.3L793.3,495.3L793.3,535.8L801,535.8L801,535.8L809.2,535.8L809.2,535.8L817.1,535.8L817.1,535.8L825.2,535.8L825.2,535.8L833,535.8L833,535.8L840.7,535.8L840.7,535.8L848.9,535.8L848.9,535.8L856.2,535.8L856.2,535.8L864,535.8L864,535.8L872.1,535.8L872.1,535.8L879.5,535.8L879.5,535.8L887.6,535.8L887.6,535.8L895.5,535.8L895.5,535.8L903.7,535.8L903.7,535.8L911.8,535.8L911.8,535.8L919.2,535.8L919.2,535.8L927.5,535.8L927.5,534.8L935.3,534.8L935.3,535.8L943.4,535.8L943.4,535.8L951.1,535.8L951.1,523L958.9,523L958.9,535L966.6,535L966.6,532L974.8,532L974.8,535.8L982.5,535.8L982.5,534.5L990.3,534.5L990.3,535.8L999,535.8L999,535.8L1006.7,535.8L1006.7,535.8L1014.7,535.8L1014.7,535.8L1022.8,535.8L1022.8,530L1030.6,530L1030.6,535.8L1038.3,535.8L1038.3,533L1046.1,533L1046.1,535.8L1053.2,535.8L1053.2,241.8L1063.8,241.8L1063.8,256.3L1071.6,256.3L1071.6,295.6L1079.5,295.6L1079.5,269L1087.4,269L1087.4,275.7L1095.2,275.7L1095.2,263L1103.1,263L1103.1,263L1111,263L1111,270.2L1118.9,270.2L1118.9,265.4L1126.7,265.4L1126.7,305.9L1134.6,305.9L1134.6,296.9L1142.5,296.9L1142.5,305.3L1150.3,305.3L1150.3,271.4L1158.2,271.4L1158.2,278.7L1166.1,278.7L1166.1,266.6L1174,266.6L1174,339.8L1181.8,339.8L1181.8,307.1L1189.7,307.1L1189.7,272.6L1197.6,272.6L1197.6,273.8L1205.4,273.8L1205.4,536.6L1213.3,536.6L1213.3,370L1221.2,370L1221.2,296.9L1229,296.9L1229,275L1236.9,275L1236.9,296.9L1244.8,296.9L1244.8,301.1L1252.7,301.1L1252.7,314.4L1260.5,314.4L1260.5,307.1L1268.4,307.1L1268.4,319.2L1276.3,319.2L1276.3,284.1L1284.1,284.1L1284.1,294.4L1292,294.4L1292,292.6L1299.9,292.6L1299.9,269L1307.7,269L1307.7,306.5L1315.6,306.5L1315.6,270.2L1323.5,270.2L1323.5,313.2L1331.4,313.2L1331.4,303.5L1339.2,303.5L1339.2,273.8L1347.1,273.8L1347.1,289.6L1355,289.6L1355,345L1362.8,345L1362.8,284.1L1370.7,284.1L1370.7,259.9L1378.6,259.9L1378.6,271.4L1386.4,271.4L1386.4,307.1L1394.3,307.1L1394.3,299.2L1402.2,299.2L1402.2,264.7L1410.1,264.7L1410.1,273.8L1417.9,273.8L1417.9,247.2L1425.8,247.2L1425.8,263.5L1433.7,263.5L1433.7,263.5L1441.5,263.5L1441.5,299.9L1449.4,299.9L1449.4,250.2L1457.3,250.2L1457.3,281.7L1465.1,281.7L1465.1,247.2L1473,247.2L1473,263.5L1480.9,263.5L1480.9,276.9L1488.8,276.9L1488.8,262.3L1496.6,262.3L1496.6,242.3L1504.5,242.3L1504.5,243.6L1512.4,243.6L1512.4,243.6L1520.2,243.6L1520.2,250.8L1528.1,250.8L1528.1,272L1536,272L1536,264.7L1543.8,264.7L1543.8,292.6L1551.7,292.6L1551.7,258.7L1559.6,258.7L1559.6,258.7L1567.5,258.7L1567.5,240.5L1575.3,240.5L1575.3,274.4L1583.2,274.4L1583.2,274.4L1591.1,274.4L1591.1,264.1L1598.9,264.1L1598.9,275.6L1606.8,275.6L1606.8,307.1L1614.7,307.1L1614.7,278.1L1622.5,278.1L1622.5,272.8L1630.4,272.8L1630.4,285.8L1638.3,285.8L1638.3,274.5L1646.2,274.5L1646.2,282.5L1654,282.5L1654,282.5L1661.9,282.5L1661.9,288.2L1669.8,288.2L1669.8,301.1L1677.6,301.1L1677.6,281.7L1685.5,281.7L1685.5,314.1L1693.4,314.1L1693.4,404.7L1701.2,404.7L1701.2,307.6L1709.1,307.6L1709.1,294.7L1717,294.7L1717,297.9L1724.9,297.9L1724.9,261.5L1732.7,261.5L1732.7,283.4L1740.6,283.4L1740.6,289.8L1748.5,289.8L1748.5,280.9L1756.3,280.9L1756.3,204.9L1764.2,204.9L1764.2,307.6L1772.1,307.6L1772.1,361L1779.9,361L1779.9,441.9L1787.8,441.9L1787.8,490.5L1795.7,490.5" fill="none" stroke="#00B6EB" stroke-width="3.2" stroke-linejoin="miter"/>
<path d="M308.9,30.6L321.3,30.6L321.3,30.6L330.5,30.6L330.5,30.6L341.7,30.6L341.7,30.6L351.5,30.6L351.5,292L362.1,292L362.1,280.5L370.1,280.5L370.1,361.3L378.1,361.3L378.1,390.5L386.1,390.5L386.1,395.9L395.9,395.9L395.9,216.6L404.7,216.6L404.7,276L412.7,276L412.7,287.6L420.7,287.6L420.7,281.4L428.7,281.4L428.7,285.8L437.6,285.8L437.6,284.9L445.6,284.9L445.6,287.6L453.6,287.6L453.6,261.8L461.5,261.8L461.5,309.8L468.6,309.8L468.6,304.4L476.6,304.4L476.6,535.7L478.2,535.7L478.2,535.7L484.5,535.7L484.5,535.7L492.3,535.7L492.3,535.7L500.3,535.7L500.3,535.7L508.5,535.7L508.5,535.7L516.3,535.7L516.3,535.7L524.5,535.7L524.5,535.7L532.3,535.7L532.3,535.7L540.3,535.7L540.3,535.7L548.4,535.7L548.4,535.7L556.2,535.7L556.2,535.7L564.4,535.7L564.4,535.1L572.2,535.1L572.2,535.7L580.2,535.7L580.2,535.7L588,535.7L588,534.8L595.8,534.8L595.8,535.7L603.8,535.7L603.8,535.5L611.6,535.5L611.6,478L619.8,478L619.8,535.7L628,535.7L628,535.7L635.8,535.7L635.8,535.7L643.4,535.7L643.4,535.7L651.6,535.7L651.6,535.7L659.4,535.7L659.4,535.7L667.6,535.7L667.6,535.7L675.7,535.7L675.7,535.7L683.4,535.7L683.4,535.7L691.5,535.7L691.5,535.7L699.3,535.7L699.3,533.8L707,533.8L707,535.7L715.1,535.7L715.1,535.7L722.9,535.7L722.9,535.7L730.6,535.7L730.6,535.7L738.7,535.7L738.7,534.8L746.5,534.8L746.5,535.7L754.5,535.7L754.5,443.9L769.1,443.9L769.1,497L776.8,497L776.8,535.7L784.6,535.7L784.6,499.1L793.3,499.1L793.3,535.7L801,535.7L801,535.7L809.2,535.7L809.2,535.7L817.1,535.7L817.1,534.1L825.2,534.1L825.2,535.7L833,535.7L833,535.2L840.7,535.2L840.7,535.7L848.9,535.7L848.9,535.7L856.2,535.7L856.2,535.7L864,535.7L864,535.7L872.1,535.7L872.1,535.7L879.5,535.7L879.5,535.7L887.6,535.7L887.6,519.5L895.5,519.5L895.5,535.7L903.7,535.7L903.7,535.7L911.8,535.7L911.8,535.7L919.2,535.7L919.2,535.1L927.5,535.1L927.5,535.7L935.3,535.7L935.3,535.7L943.4,535.7L943.4,535.7L951.1,535.7L951.1,518.5L958.9,518.5L958.9,518L966.6,518L966.6,534.9L974.8,534.9L974.8,535.7L982.5,535.7L982.5,535.7L990.3,535.7L990.3,533.7L999,533.7L999,535.7L1006.7,535.7L1006.7,535.7L1014.7,535.7L1014.7,535.7L1022.8,535.7L1022.8,524.3L1030.6,524.3L1030.6,526L1038.3,526L1038.3,535.7L1046.1,535.7L1046.1,535.7L1053.2,535.7L1053.2,352L1063.8,352L1063.8,283.5L1071.6,283.5L1071.6,289.6L1079.5,289.6L1079.5,286L1087.4,286L1087.4,286L1095.2,286L1095.2,284.7L1103.1,284.7L1103.1,282.3L1111,282.3L1111,284.7L1118.9,284.7L1118.9,288.4L1126.7,288.4L1126.7,294.4L1134.6,294.4L1134.6,289.6L1142.5,289.6L1142.5,296.9L1150.3,296.9L1150.3,283.5L1158.2,283.5L1158.2,283.5L1166.1,283.5L1166.1,286L1174,286L1174,290.8L1181.8,290.8L1181.8,265.4L1189.7,265.4L1189.7,277.5L1197.6,277.5L1197.6,277.5L1205.4,277.5L1205.4,293.2L1213.3,293.2L1213.3,287.2L1221.2,287.2L1221.2,290.8L1229,290.8L1229,289.6L1236.9,289.6L1236.9,290.8L1244.8,290.8L1244.8,290.2L1252.7,290.2L1252.7,292L1260.5,292L1260.5,298L1268.4,298L1268.4,279.3L1276.3,279.3L1276.3,278.1L1284.1,278.1L1284.1,280.5L1292,280.5L1292,282.9L1299.9,282.9L1299.9,287.7L1307.7,287.7L1307.7,293.2L1315.6,293.2L1315.6,280.5L1323.5,280.5L1323.5,293.8L1331.4,293.8L1331.4,292.6L1339.2,292.6L1339.2,287.7L1347.1,287.7L1347.1,290.2L1355,290.2L1355,301.1L1362.8,301.1L1362.8,289L1370.7,289L1370.7,286.5L1378.6,286.5L1378.6,285.3L1386.4,285.3L1386.4,292.6L1394.3,292.6L1394.3,291.4L1402.2,291.4L1402.2,280.5L1410.1,280.5L1410.1,279.9L1417.9,279.9L1417.9,280.5L1425.8,280.5L1425.8,280.5L1433.7,280.5L1433.7,281.7L1441.5,281.7L1441.5,289L1449.4,289L1449.4,285.3L1457.3,285.3L1457.3,286.5L1465.1,286.5L1465.1,280.5L1473,280.5L1473,286.5L1480.9,286.5L1480.9,230.8L1488.8,230.8L1488.8,273.2L1496.6,273.2L1496.6,273.2L1504.5,273.2L1504.5,274.4L1512.4,274.4L1512.4,281.7L1520.2,281.7L1520.2,281.7L1528.1,281.7L1528.1,287.7L1536,287.7L1536,282.9L1543.8,282.9L1543.8,286.5L1551.7,286.5L1551.7,275.6L1559.6,275.6L1559.6,280.5L1567.5,280.5L1567.5,279.3L1575.3,279.3L1575.3,278.1L1583.2,278.1L1583.2,273.2L1591.1,273.2L1591.1,281.7L1598.9,281.7L1598.9,289L1606.8,289L1606.8,289L1614.7,289L1614.7,286.5L1622.5,286.5L1622.5,286.6L1630.4,286.6L1630.4,289.8L1638.3,289.8L1638.3,286.6L1646.2,286.6L1646.2,285L1654,285L1654,288.2L1661.9,288.2L1661.9,289L1669.8,289L1669.8,296.3L1677.6,296.3L1677.6,283.4L1685.5,283.4L1685.5,299.5L1693.4,299.5L1693.4,285L1701.2,285L1701.2,289.8L1709.1,289.8L1709.1,289.8L1717,289.8L1717,289.8L1724.9,289.8L1724.9,283.4L1732.7,283.4L1732.7,278.5L1740.6,278.5L1740.6,289.8L1748.5,289.8L1748.5,286.6L1756.3,286.6L1756.3,225.9L1764.2,225.9L1764.2,286.6L1772.1,286.6L1772.1,328.6L1779.9,328.6L1779.9,458L1787.8,458L1787.8,524L1795.7,524" fill="none" stroke="#A58AFF" stroke-width="3.2" stroke-linejoin="miter"/>
<path d="M308.9,30.6L321.3,30.6L321.3,30.6L330.5,30.6L330.5,30.6L341.7,30.6L341.7,30.6L351.5,30.6L351.5,272.5L362.1,272.5L362.1,276L370.1,276L370.1,358.6L378.1,358.6L378.1,391.4L386.1,391.4L386.1,398.5L395.9,398.5L395.9,228.1L404.7,228.1L404.7,275.2L412.7,275.2L412.7,291.1L420.7,291.1L420.7,272.5L428.7,272.5L428.7,286.7L437.6,286.7L437.6,285.8L445.6,285.8L445.6,284.9L453.6,284.9L453.6,225.4L461.5,225.4L461.5,266.3L468.6,266.3L468.6,295.6L476.6,295.6L476.6,536L478.2,536L478.2,536L484.5,536L484.5,536L492.3,536L492.3,536L500.3,536L500.3,531L508.5,531L508.5,531L516.3,531L516.3,536L524.5,536L524.5,535.5L532.3,535.5L532.3,536L540.3,536L540.3,536L548.4,536L548.4,536L556.2,536L556.2,531L564.4,531L564.4,536L572.2,536L572.2,536L580.2,536L580.2,529.8L588,529.8L588,536L595.8,536L595.8,536L603.8,536L603.8,536L611.6,536L611.6,481.7L619.8,481.7L619.8,536L628,536L628,536L635.8,536L635.8,536L643.4,536L643.4,536L651.6,536L651.6,536L659.4,536L659.4,536L667.6,536L667.6,536L675.7,536L675.7,536L683.4,536L683.4,536L691.5,536L691.5,536L699.3,536L699.3,536L707,536L707,536L715.1,536L715.1,535.5L722.9,535.5L722.9,536L730.6,536L730.6,536L738.7,536L738.7,536L746.5,536L746.5,536L754.5,536L754.5,449.7L769.1,449.7L769.1,498.2L776.8,498.2L776.8,536L784.6,536L784.6,502L793.3,502L793.3,536L801,536L801,536L809.2,536L809.2,536L817.1,536L817.1,536L825.2,536L825.2,536L833,536L833,536L840.7,536L840.7,535.6L848.9,535.6L848.9,536L856.2,536L856.2,536L864,536L864,536L872.1,536L872.1,528L879.5,528L879.5,526L887.6,526L887.6,515.6L895.5,515.6L895.5,536L903.7,536L903.7,536L911.8,536L911.8,536L919.2,536L919.2,536L927.5,536L927.5,536L935.3,536L935.3,536L943.4,536L943.4,536L951.1,536L951.1,512.7L958.9,512.7L958.9,510.7L966.6,510.7L966.6,536L974.8,536L974.8,536L982.5,536L982.5,536L990.3,536L990.3,531L999,531L999,536L1006.7,536L1006.7,536L1014.7,536L1014.7,530L1022.8,530L1022.8,526.2L1030.6,526.2L1030.6,528L1038.3,528L1038.3,536L1046.1,536L1046.1,536L1053.2,536L1053.2,375L1063.8,375L1063.8,280.5L1071.6,280.5L1071.6,286L1079.5,286L1079.5,271.4L1087.4,271.4L1087.4,286L1095.2,286L1095.2,282.3L1103.1,282.3L1103.1,277.5L1111,277.5L1111,273.8L1118.9,273.8L1118.9,273.8L1126.7,273.8L1126.7,282.3L1134.6,282.3L1134.6,273.8L1142.5,273.8L1142.5,279.9L1150.3,279.9L1150.3,279.9L1158.2,279.9L1158.2,259.9L1166.1,259.9L1166.1,271.4L1174,271.4L1174,271.4L1181.8,271.4L1181.8,284.7L1189.7,284.7L1189.7,266L1197.6,266L1197.6,270.2L1205.4,270.2L1205.4,293.2L1213.3,293.2L1213.3,294.4L1221.2,294.4L1221.2,295.6L1229,295.6L1229,295.6L1236.9,295.6L1236.9,286L1244.8,286L1244.8,296.8L1252.7,296.8L1252.7,298L1260.5,298L1260.5,304.7L1268.4,304.7L1268.4,282.9L1276.3,282.9L1276.3,279.9L1284.1,279.9L1284.1,281.1L1292,281.1L1292,289.6L1299.9,289.6L1299.9,287.7L1307.7,287.7L1307.7,296.2L1315.6,296.2L1315.6,276.2L1323.5,276.2L1323.5,291.4L1331.4,291.4L1331.4,290.2L1339.2,290.2L1339.2,292.6L1347.1,292.6L1347.1,290.8L1355,290.8L1355,315.6L1362.8,315.6L1362.8,285.3L1370.7,285.3L1370.7,292L1378.6,292L1378.6,286.5L1386.4,286.5L1386.4,295L1394.3,295L1394.3,295L1402.2,295L1402.2,286.5L1410.1,286.5L1410.1,285.3L1417.9,285.3L1417.9,286.5L1425.8,286.5L1425.8,281.7L1433.7,281.7L1433.7,280.5L1441.5,280.5L1441.5,285.9L1449.4,285.9L1449.4,284.1L1457.3,284.1L1457.3,285.9L1465.1,285.9L1465.1,279.3L1473,279.3L1473,289L1480.9,289L1480.9,280.5L1488.8,280.5L1488.8,270.8L1496.6,270.8L1496.6,258.7L1504.5,258.7L1504.5,273.2L1512.4,273.2L1512.4,274.4L1520.2,274.4L1520.2,275L1528.1,275L1528.1,278.7L1536,278.7L1536,276.9L1543.8,276.9L1543.8,276.9L1551.7,276.9L1551.7,276.2L1559.6,276.2L1559.6,282.9L1567.5,282.9L1567.5,282.9L1575.3,282.9L1575.3,275.6L1583.2,275.6L1583.2,274.4L1591.1,274.4L1591.1,278.7L1598.9,278.7L1598.9,289L1606.8,289L1606.8,292L1614.7,292L1614.7,285.3L1622.5,285.3L1622.5,281.7L1630.4,281.7L1630.4,293.1L1638.3,293.1L1638.3,288.2L1646.2,288.2L1646.2,287.4L1654,287.4L1654,297.9L1661.9,297.9L1661.9,289.8L1669.8,289.8L1669.8,296.3L1677.6,296.3L1677.6,295.5L1685.5,295.5L1685.5,302.8L1693.4,302.8L1693.4,286.6L1701.2,286.6L1701.2,291.4L1709.1,291.4L1709.1,291.4L1717,291.4L1717,285L1724.9,285L1724.9,281.7L1732.7,281.7L1732.7,276.9L1740.6,276.9L1740.6,293.1L1748.5,293.1L1748.5,288.2L1756.3,288.2L1756.3,286.6L1764.2,286.6L1764.2,286.6L1772.1,286.6L1772.1,343.2L1779.9,343.2L1779.9,438.6L1787.8,438.6L1787.8,498.9L1795.7,498.9" fill="none" stroke="#FB61D7" stroke-width="3.2" stroke-linejoin="miter"/>
<text x="379" y="56.9" font-size="24.6" text-anchor="start" fill="#000" font-style="italic">ETSTY7</text>
<text x="385.6" y="91.5" font-size="24.6" text-anchor="start" fill="#000" >array</text>
<text x="409.3" y="133.7" font-size="24.6" text-anchor="start" fill="#000" >MSY-PAR</text>
<text x="406.9" y="167" font-size="24.6" text-anchor="start" fill="#000" >Duplication</text>
<line x1="375.4" y1="92" x2="365.5" y2="109.5" stroke="#0000FF" stroke-width="5.2"/>
<polygon points="356.8,124.7 357.9,102.9 375,112.6" fill="#0000FF"/>
<line x1="396" y1="157.9" x2="386" y2="174.9" stroke="#0000FF" stroke-width="5.2"/>
<polygon points="377.1,190 378.5,168.2 395.4,178.2" fill="#0000FF"/>
<text x="661.5" y="323.2" font-size="24.6" text-anchor="start" fill="#000" >Ampliconic region</text>
<path d="M482.5,359.6 C482.8,352 483.2,348.5 485.5,346.9 L756.5,346.9 C759,346.9 760,338 760.7,332.7 C761.4,338 762.4,346.9 765,346.9 L1036,346.9 C1038.3,348.5 1038.7,352 1039,359.6" fill="none" stroke="#222" stroke-width="2"/>
<text x="1151.8" y="115.4" font-size="24.6" text-anchor="start" fill="#000" >Duplication in</text>
<text x="1151.8" y="145.4" font-size="24.6" text-anchor="start" fill="#000" >ancient horses</text>
<line x1="1215.3" y1="155.4" x2="1205.2" y2="172.1" stroke="#0000FF" stroke-width="5.2"/>
<polygon points="1196.2,187.1 1197.9,165.3 1214.7,175.5" fill="#0000FF"/>
<text x="1223.9" y="406.8" font-size="24.6" text-anchor="start" fill="#000" >Deletion in</text>
<text x="1223.9" y="436.3" font-size="24.6" text-anchor="start" fill="#000" >onager</text>
<line x1="1237.5" y1="451.4" x2="1227.8" y2="468.2" stroke="#0000FF" stroke-width="5.2"/>
<polygon points="1219,483.3 1220.3,461.5 1237.3,471.3" fill="#0000FF"/>
<text x="1531.5" y="119.1" font-size="24.6" text-anchor="start" fill="#000" >Duplication</text>
<text x="1531.5" y="149.1" font-size="24.6" text-anchor="start" fill="#000" >in donkey</text>
<line x1="1647.7" y1="133" x2="1661.3" y2="143.3" stroke="#0000FF" stroke-width="5.2"/>
<polygon points="1675.2,153.9 1653.7,149.9 1665.6,134.3" fill="#0000FF"/>
<text x="611.2" y="78.1" font-size="24.6" text-anchor="start" fill="#000" >Sample</text>
<line x1="610.5" y1="101.7" x2="629" y2="101.7" stroke="#F8766D" stroke-width="2.6" />
<text x="643.9" y="108.6" font-size="20.6" text-anchor="start" fill="#000" >Ancient (Batagai)</text>
<line x1="610.5" y1="124.9" x2="629" y2="124.9" stroke="#C49A00" stroke-width="2.6" />
<text x="643.9" y="131.8" font-size="20.6" text-anchor="start" fill="#000" >Ancient (CGG10023)</text>
<line x1="610.5" y1="148" x2="629" y2="148" stroke="#53B400" stroke-width="2.6" />
<text x="643.9" y="154.9" font-size="20.6" text-anchor="start" fill="#000" >Domestic (8)</text>
<line x1="610.5" y1="171.2" x2="629" y2="171.2" stroke="#00C094" stroke-width="2.6" />
<text x="643.9" y="178.1" font-size="20.6" text-anchor="start" fill="#000" >Domestic donkey</text>
<line x1="610.5" y1="194.4" x2="629" y2="194.4" stroke="#00B6EB" stroke-width="2.6" />
<text x="643.9" y="201.3" font-size="20.6" text-anchor="start" fill="#000" >Onager</text>
<line x1="610.5" y1="217.6" x2="629" y2="217.6" stroke="#A58AFF" stroke-width="2.6" />
<text x="643.9" y="224.5" font-size="20.6" text-anchor="start" fill="#000" >Przewalski&#8217;s horse (2)</text>
<line x1="610.5" y1="240.7" x2="629" y2="240.7" stroke="#FB61D7" stroke-width="2.6" />
<text x="643.9" y="247.6" font-size="20.6" text-anchor="start" fill="#000" >Yakutian (4)</text>
<line x1="220.5" y1="30.6" x2="234.5" y2="30.6" stroke="#000" stroke-width="4" />
<text x="209" y="39.2" font-size="24.6" text-anchor="end" fill="#000" >2&#215;</text>
<line x1="220.5" y1="283.6" x2="234.5" y2="283.6" stroke="#000" stroke-width="4" />
<text x="209" y="292.2" font-size="24.6" text-anchor="end" fill="#000" >1&#215;</text>
<line x1="220.5" y1="536.6" x2="234.5" y2="536.6" stroke="#000" stroke-width="4" />
<text x="209" y="545.2" font-size="24.6" text-anchor="end" fill="#000" >0&#215;</text>
<line x1="308.6" y1="562.5" x2="308.6" y2="575.7" stroke="#000" stroke-width="3.6" />
<text x="308.6" y="606.3" font-size="25" text-anchor="middle" fill="#000" >0 M</text>
<line x1="465.2" y1="562.5" x2="465.2" y2="575.7" stroke="#000" stroke-width="3.6" />
<text x="465.2" y="606.3" font-size="25" text-anchor="middle" fill="#000" >1 M</text>
<line x1="621.7" y1="562.5" x2="621.7" y2="575.7" stroke="#000" stroke-width="3.6" />
<text x="621.7" y="606.3" font-size="25" text-anchor="middle" fill="#000" >2 M</text>
<line x1="778.3" y1="562.5" x2="778.3" y2="575.7" stroke="#000" stroke-width="3.6" />
<text x="778.3" y="606.3" font-size="25" text-anchor="middle" fill="#000" >3 M</text>
<line x1="934.8" y1="562.5" x2="934.8" y2="575.7" stroke="#000" stroke-width="3.6" />
<text x="934.8" y="606.3" font-size="25" text-anchor="middle" fill="#000" >4 M</text>
<line x1="1091.4" y1="562.5" x2="1091.4" y2="575.7" stroke="#000" stroke-width="3.6" />
<text x="1091.4" y="606.3" font-size="25" text-anchor="middle" fill="#000" >5 M</text>
<line x1="1248" y1="562.5" x2="1248" y2="575.7" stroke="#000" stroke-width="3.6" />
<text x="1248" y="606.3" font-size="25" text-anchor="middle" fill="#000" >6 M</text>
<line x1="1404.5" y1="562.5" x2="1404.5" y2="575.7" stroke="#000" stroke-width="3.6" />
<text x="1404.5" y="606.3" font-size="25" text-anchor="middle" fill="#000" >7 M</text>
<line x1="1561.1" y1="562.5" x2="1561.1" y2="575.7" stroke="#000" stroke-width="3.6" />
<text x="1561.1" y="606.3" font-size="25" text-anchor="middle" fill="#000" >8 M</text>
<line x1="1717.6" y1="562.5" x2="1717.6" y2="575.7" stroke="#000" stroke-width="3.6" />
<text x="1717.6" y="606.3" font-size="25" text-anchor="middle" fill="#000" >9 M</text>
<text x="1045" y="644.6" font-size="24.6" text-anchor="middle" fill="#000" >eMSY v 3 (bp)</text>
<text transform="translate(159.1,281) rotate(-90)" font-size="25" text-anchor="middle">Normalized coverage</text>
<text x="139" y="23.2" font-size="41" font-weight="bold">a</text>
<line x1="309.9" y1="704.8" x2="309.9" y2="1256" stroke="#EBEBEB" stroke-width="1.5" />
<line x1="387.4" y1="704.8" x2="387.4" y2="1256" stroke="#F7F7F7" stroke-width="3" />
<line x1="464.9" y1="704.8" x2="464.9" y2="1256" stroke="#EBEBEB" stroke-width="1.5" />
<line x1="542.5" y1="704.8" x2="542.5" y2="1256" stroke="#F7F7F7" stroke-width="3" />
<line x1="620" y1="704.8" x2="620" y2="1256" stroke="#EBEBEB" stroke-width="1.5" />
<line x1="697.5" y1="704.8" x2="697.5" y2="1256" stroke="#F7F7F7" stroke-width="3" />
<line x1="775" y1="704.8" x2="775" y2="1256" stroke="#EBEBEB" stroke-width="1.5" />
<line x1="852.5" y1="704.8" x2="852.5" y2="1256" stroke="#F7F7F7" stroke-width="3" />
<line x1="930.1" y1="704.8" x2="930.1" y2="1256" stroke="#EBEBEB" stroke-width="1.5" />
<line x1="1007.6" y1="704.8" x2="1007.6" y2="1256" stroke="#F7F7F7" stroke-width="3" />
<line x1="1085.1" y1="704.8" x2="1085.1" y2="1256" stroke="#EBEBEB" stroke-width="1.5" />
<line x1="1162.6" y1="704.8" x2="1162.6" y2="1256" stroke="#F7F7F7" stroke-width="3" />
<line x1="1240.1" y1="704.8" x2="1240.1" y2="1256" stroke="#EBEBEB" stroke-width="1.5" />
<line x1="1317.7" y1="704.8" x2="1317.7" y2="1256" stroke="#F7F7F7" stroke-width="3" />
<line x1="1395.2" y1="704.8" x2="1395.2" y2="1256" stroke="#EBEBEB" stroke-width="1.5" />
<line x1="1472.7" y1="704.8" x2="1472.7" y2="1256" stroke="#F7F7F7" stroke-width="3" />
<line x1="1550.2" y1="704.8" x2="1550.2" y2="1256" stroke="#EBEBEB" stroke-width="1.5" />
<line x1="1627.7" y1="704.8" x2="1627.7" y2="1256" stroke="#F7F7F7" stroke-width="3" />
<line x1="1705.3" y1="704.8" x2="1705.3" y2="1256" stroke="#EBEBEB" stroke-width="1.5" />
<line x1="1782.8" y1="704.8" x2="1782.8" y2="1256" stroke="#F7F7F7" stroke-width="3" />
<line x1="236.4" y1="727.6" x2="1855" y2="727.6" stroke="#F7F7F7" stroke-width="3" />
<line x1="236.4" y1="790" x2="1855" y2="790" stroke="#EBEBEB" stroke-width="1.5" />
<line x1="236.4" y1="852.4" x2="1855" y2="852.4" stroke="#F7F7F7" stroke-width="3" />
<line x1="236.4" y1="914.8" x2="1855" y2="914.8" stroke="#EBEBEB" stroke-width="1.5" />
<line x1="236.4" y1="977.2" x2="1855" y2="977.2" stroke="#F7F7F7" stroke-width="3" />
<line x1="236.4" y1="1039.5" x2="1855" y2="1039.5" stroke="#EBEBEB" stroke-width="1.5" />
<line x1="236.4" y1="1101.9" x2="1855" y2="1101.9" stroke="#F7F7F7" stroke-width="3" />
<line x1="236.4" y1="1164.3" x2="1855" y2="1164.3" stroke="#EBEBEB" stroke-width="1.5" />
<line x1="236.4" y1="1226.7" x2="1855" y2="1226.7" stroke="#F7F7F7" stroke-width="3" />
<path d="M309.7,851.7L321.8,851.7L321.8,858.3L331.5,858.3L331.5,811.7L343.2,811.7L343.2,895.9L352.2,895.9L352.2,945.6L362.6,945.6L362.6,959.7L370.4,959.7L370.4,968.7L378.1,968.7M387.3,951L397,951L397,946.3L404.3,946.3L404.3,946.3L412.1,946.3L412.1,952.4L420.1,952.4L420.1,960.2L427.4,960.2L427.4,957.3L436.3,957.3L436.3,971.1L445.1,971.1L445.1,955.3L452.8,955.3L452.8,949.3L460.6,949.3L460.6,990.5L468.6,990.5L468.6,971.1L475.9,971.1M1048.4,962L1055.6,962L1055.6,938.9L1063.8,938.9L1063.8,933.8L1071.5,933.8L1071.5,930.9L1080.5,930.9L1080.5,954.3L1087.7,954.3L1087.7,963.7L1095.9,963.7L1095.9,963.3L1103.9,963.3L1103.9,973.1L1111.6,973.1L1111.6,958.2L1119.3,958.2L1119.3,966.2L1127,966.2L1127,959.9L1135,959.9L1135,974.8L1142.3,974.8L1142.3,967.4L1150.5,967.4L1150.5,949.7L1158.6,949.7L1158.6,979L1166.6,979L1166.6,969.7L1174.3,969.7L1174.3,967.9L1182.5,967.9L1182.5,950.4L1190.7,950.4L1190.7,963.7L1198.3,963.7L1198.3,967.9L1206.4,967.9L1206.4,957.7L1214.1,957.7L1214.1,979L1221.7,979L1221.7,950.4L1229.4,950.4L1229.4,945.7L1237.6,945.7L1237.6,947.5L1244.8,947.5L1244.8,961.6L1252.5,961.6L1252.5,956L1260.5,956L1260.5,953.1L1268.4,953.1L1268.4,987.6L1276.4,987.6L1276.4,977.3L1284.1,977.3L1284.1,972.2L1292.3,972.2L1292.3,976.5L1300.2,976.5L1300.2,972.2L1307.9,972.2L1307.9,954.8L1316,954.8L1316,944.5L1323.3,944.5L1323.3,939.8L1331.3,939.8L1331.3,981.6L1339.2,981.6L1339.2,955.5L1347.2,955.5L1347.2,938.1L1354.5,938.1L1354.5,931.6L1362.6,931.6L1362.6,968.5L1370.3,968.5L1370.3,944L1377.9,944L1377.9,946.9L1385.6,946.9L1385.6,969.7L1393.3,969.7L1393.3,989.3L1401.3,989.3L1401.3,938.9L1409.2,938.9L1409.2,966.7L1416.7,966.7L1416.7,953.4L1424.9,953.4L1424.9,965.7L1432.6,965.7L1432.6,940.6L1440.6,940.6L1440.6,969.7L1448.5,969.7L1448.5,963.7L1456,963.7L1456,958.6L1463.8,958.6L1463.8,958.6L1471.4,958.6L1471.4,962.8L1479.5,962.8L1479.5,959.4L1487.2,959.4L1487.2,952.6L1494.9,952.6L1494.9,965L1502.6,965L1502.6,940.1L1510.3,940.1L1510.3,945.7L1518,945.7L1518,952.6L1525.7,952.6L1525.7,966.2L1533.3,966.2L1533.3,950.9L1541,950.9L1541,942.8L1548.7,942.8L1548.7,949.2L1556.3,949.2L1556.3,958.2L1564,958.2L1564,959.4L1572.2,959.4L1572.2,954.8L1579.7,954.8L1579.7,948.6L1587.9,948.6L1587.9,967.9L1595.6,967.9L1595.6,974.8L1603.3,974.8L1603.3,973.9L1610.5,973.9L1610.5,972.2L1618.7,972.2L1618.7,961.6L1626.9,961.6L1626.9,997L1634.4,997L1634.4,958.9L1642.6,958.9L1642.6,958.6L1650.3,958.6L1650.3,937.2L1658.3,937.2L1658.3,982.1L1666.1,982.1L1666.1,976.5L1673.7,976.5L1673.7,949.7L1681.5,949.7L1681.5,964.5L1689.5,964.5L1689.5,961.6L1697.2,961.6L1697.2,981.6L1704.9,981.6L1704.9,969.1L1712.9,969.1L1712.9,956.5L1720.8,956.5L1720.8,983.3L1728.3,983.3L1728.3,1006L1736.2,1006L1736.2,976.5L1743.7,976.5L1743.7,965.7L1751.5,965.7L1751.5,938.4L1759,938.4L1759,974.3L1766.4,974.3L1766.4,876.1L1774.1,876.1" fill="none" stroke="#F8766D" stroke-width="2.9"/>
<path d="M309.7,1016L321.8,1016L321.8,1042.2L331.5,1042.2L331.5,1023.3L343.2,1023.3L343.2,1010.6L352.2,1010.6L352.2,1073L362.6,1073L362.6,1257.4L370.4,1257.4L370.4,1129.5L378.1,1129.5M387.3,1132.4L397,1132.4L397,1034.9L404.3,1034.9L404.3,1171.2L412.1,1171.2L412.1,1170L420.1,1170L420.1,1223.4L427.4,1223.4L427.4,1104.5L436.3,1104.5L436.3,1229.5L445.1,1229.5L445.1,1257.4L452.8,1257.4L452.8,1257.4L460.6,1257.4L460.6,1219.8L468.6,1219.8L468.6,1225.8L475.9,1225.8M1048.4,1258.2L1055.6,1258.2L1055.6,1053.8L1063.8,1053.8L1063.8,1230.1L1071.5,1230.1L1071.5,1172.9L1080.5,1172.9L1080.5,1143L1087.7,1143L1087.7,1193.4L1095.9,1193.4L1095.9,1230.9L1103.9,1230.9L1103.9,1258.2L1111.6,1258.2L1111.6,1230.9L1119.3,1230.9L1119.3,1258.2L1127,1258.2L1127,1172L1135,1172L1135,1154.9L1142.3,1154.9L1142.3,1172L1150.5,1172L1150.5,1078.1L1158.6,1078.1L1158.6,1230.9L1166.6,1230.9L1166.6,1125.9L1174.3,1125.9L1174.3,1192.5L1182.5,1192.5L1182.5,1144.7L1190.7,1144.7L1190.7,1112.6L1198.3,1112.6L1198.3,1192.5L1206.4,1192.5L1206.4,1258.2L1214.1,1258.2L1214.1,1230.9L1221.7,1230.9L1221.7,1230.9L1229.4,1230.9L1229.4,1230.9L1237.6,1230.9L1237.6,1192.2L1244.8,1192.2L1244.8,1258.2L1252.5,1258.2L1252.5,1258.2L1260.5,1258.2L1260.5,1258.2L1268.4,1258.2L1268.4,1230.9L1276.4,1230.9L1276.4,1230.1L1284.1,1230.1L1284.1,1192.5L1292.3,1192.5L1292.3,1230.9L1300.2,1230.9L1300.2,1227.5L1307.9,1227.5L1307.9,1155.8L1316,1155.8L1316,1082.9L1323.3,1082.9L1323.3,1169.4L1331.3,1169.4L1331.3,1258.2L1339.2,1258.2L1339.2,1230.9L1347.2,1230.9L1347.2,1049.9L1354.5,1049.9L1354.5,1191.6L1362.6,1191.6L1362.6,1230.9L1370.3,1230.9L1370.3,1096L1377.9,1096L1377.9,1229.2L1385.6,1229.2L1385.6,1258.2L1393.3,1258.2L1393.3,1230.9L1401.3,1230.9L1401.3,1193.4L1409.2,1193.4L1409.2,1143L1416.7,1143L1416.7,1155.8L1424.9,1155.8L1424.9,1192.5L1432.6,1192.5L1432.6,1191.6L1440.6,1191.6L1440.6,1155.3L1448.5,1155.3L1448.5,1230.9L1456,1230.9L1456,1172L1463.8,1172L1463.8,1258.2L1471.4,1258.2L1471.4,1193.4L1479.5,1193.4L1479.5,1258.2L1487.2,1258.2L1487.2,1232.6L1494.9,1232.6L1494.9,1231.8L1502.6,1231.8L1502.6,1230.9L1510.3,1230.9L1510.3,1091.7L1518,1091.7L1518,1258.2L1525.7,1258.2L1525.7,1118.2L1533.3,1118.2L1533.3,1133.6L1541,1133.6L1541,1193.4L1548.7,1193.4L1548.7,1193.4L1556.3,1193.4L1556.3,1112.2L1564,1112.2L1564,1119.1L1572.2,1119.1L1572.2,1231.4L1579.7,1231.4L1579.7,1143.8L1587.9,1143.8L1587.9,1192.5L1595.6,1192.5L1595.6,1258.2L1603.3,1258.2L1603.3,1133.6L1610.5,1133.6L1610.5,1258.2L1618.7,1258.2L1618.7,1258.2L1626.9,1258.2L1626.9,1258.2L1634.4,1258.2L1634.4,1258.2L1642.6,1258.2L1642.6,1142.1L1650.3,1142.1L1650.3,1111.4L1658.3,1111.4L1658.3,1258.2L1666.1,1258.2L1666.1,1230.1L1673.7,1230.1L1673.7,1191.6L1681.5,1191.6L1681.5,1258.2L1689.5,1258.2L1689.5,1258.2L1697.2,1258.2L1697.2,1192.5L1704.9,1192.5L1704.9,1230.1L1712.9,1230.1L1712.9,1258.2L1720.8,1258.2L1720.8,1258.2L1728.3,1258.2L1728.3,1258.2L1736.2,1258.2L1736.2,1258.2L1743.7,1258.2L1743.7,1133.6L1751.5,1133.6L1751.5,1154.1L1759,1154.1L1759,1221.5L1766.4,1221.5L1766.4,1143L1774.1,1143" fill="none" stroke="#B79F00" stroke-width="2.9"/>
<path d="M309.7,749.6L321.8,749.6L321.8,751.1L331.5,751.1L331.5,737L343.2,737L343.2,768.5L352.2,768.5L352.2,769.7L362.6,769.7L362.6,772.9L370.4,772.9L370.4,776.3L378.1,776.3M387.3,762.5L397,762.5L397,778.2L404.3,778.2L404.3,778.2L412.1,778.2L412.1,775.3L420.1,775.3L420.1,779.4L427.4,779.4L427.4,779.4L436.3,779.4L436.3,784.3L445.1,784.3L445.1,774.6L452.8,774.6L452.8,783.1L460.6,783.1L460.6,785L468.6,785L468.6,783.6L475.9,783.6M1048.4,782.2L1055.6,782.2L1055.6,776.5L1063.8,776.5L1063.8,776.5L1071.5,776.5L1071.5,775.3L1080.5,775.3L1080.5,773L1087.7,773L1087.7,778.1L1095.9,778.1L1095.9,778.1L1103.9,778.1L1103.9,779.9L1111.6,779.9L1111.6,781.1L1119.3,781.1L1119.3,779.2L1127,779.2L1127,777.1L1135,777.1L1135,776.5L1142.3,776.5L1142.3,784.5L1150.5,784.5L1150.5,775.3L1158.6,775.3L1158.6,779.4L1166.6,779.4L1166.6,781.7L1174.3,781.7L1174.3,777.1L1182.5,777.1L1182.5,774.2L1190.7,774.2L1190.7,777.6L1198.3,777.6L1198.3,786.1L1206.4,786.1L1206.4,785.7L1214.1,785.7L1214.1,789.1L1221.7,789.1L1221.7,784.5L1229.4,784.5L1229.4,777.1L1237.6,777.1L1237.6,781.7L1244.8,781.7L1244.8,779.9L1252.5,779.9L1252.5,779.9L1260.5,779.9L1260.5,782.2L1268.4,782.2L1268.4,783.8L1276.4,783.8L1276.4,783.4L1284.1,783.4L1284.1,783.4L1292.3,783.4L1292.3,776.5L1300.2,776.5L1300.2,779.4L1307.9,779.4L1307.9,785L1316,785L1316,783.4L1323.3,783.4L1323.3,779.9L1331.3,779.9L1331.3,781.1L1339.2,781.1L1339.2,784.5L1347.2,784.5L1347.2,781.1L1354.5,781.1L1354.5,777.6L1362.6,777.6L1362.6,774.2L1370.3,774.2L1370.3,771.9L1377.9,771.9L1377.9,775.3L1385.6,775.3L1385.6,775.3L1393.3,775.3L1393.3,776.5L1401.3,776.5L1401.3,770.7L1409.2,770.7L1409.2,769.6L1416.7,769.6L1416.7,772.3L1424.9,772.3L1424.9,773.5L1432.6,773.5L1432.6,766.1L1440.6,766.1L1440.6,780.4L1448.5,780.4L1448.5,774.8L1456,774.8L1456,774.2L1463.8,774.2L1463.8,778.1L1471.4,778.1L1471.4,774.8L1479.5,774.8L1479.5,773L1487.2,773L1487.2,773L1494.9,773L1494.9,768.9L1502.6,768.9L1502.6,768.9L1510.3,768.9L1510.3,772.5L1518,772.5L1518,771.4L1525.7,771.4L1525.7,776.5L1533.3,776.5L1533.3,768.4L1541,768.4L1541,772.5L1548.7,772.5L1548.7,774.2L1556.3,774.2L1556.3,781.1L1564,781.1L1564,778.1L1572.2,778.1L1572.2,775.3L1579.7,775.3L1579.7,782.2L1587.9,782.2L1587.9,779.4L1595.6,779.4L1595.6,779.4L1603.3,779.4L1603.3,777.1L1610.5,777.1L1610.5,776.5L1618.7,776.5L1618.7,777.1L1626.9,777.1L1626.9,778.8L1634.4,778.8L1634.4,783.4L1642.6,783.4L1642.6,777.6L1650.3,777.6L1650.3,773L1658.3,773L1658.3,775.3L1666.1,775.3L1666.1,778.1L1673.7,778.1L1673.7,779.4L1681.5,779.4L1681.5,781.1L1689.5,781.1L1689.5,778.1L1697.2,778.1L1697.2,777.6L1704.9,777.6L1704.9,785.7L1712.9,785.7L1712.9,779.4L1720.8,779.4L1720.8,785.2L1728.3,785.2L1728.3,785.2L1736.2,785.2L1736.2,781.1L1743.7,781.1L1743.7,776.9L1751.5,776.9L1751.5,775.3L1759,775.3L1759,779.9L1766.4,779.9L1766.4,784.5L1774.1,784.5" fill="none" stroke="#00BA38" stroke-width="2.9"/>
<path d="M309.7,738.2L321.8,738.2L321.8,730.9L331.5,730.9L331.5,737L343.2,737L343.2,767.3L352.2,767.3L352.2,769.7L362.6,769.7L362.6,769.7L370.4,769.7L370.4,778.2L378.1,778.2M387.3,762.5L397,762.5L397,777L404.3,777L404.3,775.8L412.1,775.8L412.1,775.3L420.1,775.3L420.1,779.4L427.4,779.4L427.4,779.4L436.3,779.4L436.3,782.6L445.1,782.6L445.1,772.9L452.8,772.9L452.8,777.7L460.6,777.7L460.6,781.1L468.6,781.1L468.6,780.7L475.9,780.7M1048.4,774.2L1055.6,774.2L1055.6,774.2L1063.8,774.2L1063.8,772.3L1071.5,772.3L1071.5,773.7L1080.5,773.7L1080.5,771.9L1087.7,771.9L1087.7,777.6L1095.9,777.6L1095.9,777.6L1103.9,777.6L1103.9,779.2L1111.6,779.2L1111.6,776.5L1119.3,776.5L1119.3,779.2L1127,779.2L1127,775.8L1135,775.8L1135,775.3L1142.3,775.3L1142.3,784L1150.5,784L1150.5,774.2L1158.6,774.2L1158.6,778.8L1166.6,778.8L1166.6,780.6L1174.3,780.6L1174.3,774.2L1182.5,774.2L1182.5,773L1190.7,773L1190.7,777.1L1198.3,777.1L1198.3,784.5L1206.4,784.5L1206.4,785L1214.1,785L1214.1,788L1221.7,788L1221.7,784L1229.4,784L1229.4,775.3L1237.6,775.3L1237.6,781.1L1244.8,781.1L1244.8,779.2L1252.5,779.2L1252.5,778.1L1260.5,778.1L1260.5,781.1L1268.4,781.1L1268.4,778.1L1276.4,778.1L1276.4,779.9L1284.1,779.9L1284.1,782.2L1292.3,782.2L1292.3,775.3L1300.2,775.3L1300.2,778.8L1307.9,778.8L1307.9,784L1316,784L1316,782.2L1323.3,782.2L1323.3,779.2L1331.3,779.2L1331.3,779.9L1339.2,779.9L1339.2,782.2L1347.2,782.2L1347.2,781.1L1354.5,781.1L1354.5,776.5L1362.6,776.5L1362.6,773L1370.3,773L1370.3,768.4L1377.9,768.4L1377.9,766.8L1385.6,766.8L1385.6,773L1393.3,773L1393.3,773L1401.3,773L1401.3,769.6L1409.2,769.6L1409.2,769.6L1416.7,769.6L1416.7,771.2L1424.9,771.2L1424.9,771.9L1432.6,771.9L1432.6,766.1L1440.6,766.1L1440.6,778.1L1448.5,778.1L1448.5,773L1456,773L1456,773.7L1463.8,773.7L1463.8,778.1L1471.4,778.1L1471.4,774.2L1479.5,774.2L1479.5,766.1L1487.2,766.1L1487.2,771.9L1494.9,771.9L1494.9,768.4L1502.6,768.4L1502.6,768.4L1510.3,768.4L1510.3,771.9L1518,771.9L1518,769.1L1525.7,769.1L1525.7,774.2L1533.3,774.2L1533.3,767.3L1541,767.3L1541,769.6L1548.7,769.6L1548.7,774.2L1556.3,774.2L1556.3,780.4L1564,780.4L1564,774.8L1572.2,774.8L1572.2,774.2L1579.7,774.2L1579.7,780.4L1587.9,780.4L1587.9,778.8L1595.6,778.8L1595.6,778.8L1603.3,778.8L1603.3,777.1L1610.5,777.1L1610.5,775.3L1618.7,775.3L1618.7,776.5L1626.9,776.5L1626.9,777.1L1634.4,777.1L1634.4,781.1L1642.6,781.1L1642.6,774.8L1650.3,774.8L1650.3,771.2L1658.3,771.2L1658.3,774.2L1666.1,774.2L1666.1,777.6L1673.7,777.6L1673.7,778.8L1681.5,778.8L1681.5,780.6L1689.5,780.6L1689.5,778.1L1697.2,778.1L1697.2,777.1L1704.9,777.1L1704.9,783.4L1712.9,783.4L1712.9,779.4L1720.8,779.4L1720.8,782.2L1728.3,782.2L1728.3,782.2L1736.2,782.2L1736.2,779.9L1743.7,779.9L1743.7,775.8L1751.5,775.8L1751.5,768.9L1759,768.9L1759,776.5L1766.4,776.5L1766.4,784.5L1774.1,784.5" fill="none" stroke="#00BFC4" stroke-width="2.9"/>
<path d="M309.7,871.6L321.8,871.6L321.8,892.2L331.5,892.2L331.5,894.7L343.2,894.7L343.2,959L352.2,959L352.2,961.4L362.6,961.4L362.6,983.2L370.4,983.2L370.4,980.1L378.1,980.1M387.3,986.9L397,986.9L397,988.1L404.3,988.1L404.3,983.2L412.1,983.2L412.1,975.2L420.1,975.2L420.1,1009.9L427.4,1009.9L427.4,1028.6L436.3,1028.6L436.3,1020.8L445.1,1020.8L445.1,986.4L452.8,986.4L452.8,967.9L460.6,967.9L460.6,1008.7L468.6,1008.7L468.6,1006.3L475.9,1006.3M1048.4,990.7L1055.6,990.7L1055.6,981.1L1063.8,981.1L1063.8,978.7L1071.5,978.7L1071.5,973.1L1080.5,973.1L1080.5,1001.2L1087.7,1001.2L1087.7,1020.4L1095.9,1020.4L1095.9,1038.5L1103.9,1038.5L1103.9,1028.6L1111.6,1028.6L1111.6,1029.4L1119.3,1029.4L1119.3,1009.4L1127,1009.4L1127,988.4L1135,988.4L1135,1043.1L1142.3,1043.1L1142.3,1025.2L1150.5,1025.2L1150.5,977.7L1158.6,977.7L1158.6,1000.9L1166.6,1000.9L1166.6,971.9L1174.3,971.9L1174.3,964.5L1182.5,964.5L1182.5,991.9L1190.7,991.9L1190.7,985.9L1198.3,985.9L1198.3,1028.9L1206.4,1028.9L1206.4,987.6L1214.1,987.6L1214.1,1004.3L1221.7,1004.3L1221.7,1001.6L1229.4,1001.6L1229.4,985.5L1237.6,985.5L1237.6,1001.2L1244.8,1001.2L1244.8,1006.7L1252.5,1006.7L1252.5,1023.1L1260.5,1023.1L1260.5,997.5L1268.4,997.5L1268.4,1007.2L1276.4,1007.2L1276.4,1020.9L1284.1,1020.9L1284.1,1024.8L1292.3,1024.8L1292.3,1034.5L1300.2,1034.5L1300.2,1015.2L1307.9,1015.2L1307.9,971.4L1316,971.4L1316,979L1323.3,979L1323.3,978.7L1331.3,978.7L1331.3,1020.9L1339.2,1020.9L1339.2,996.1L1347.2,996.1L1347.2,963.7L1354.5,963.7L1354.5,1010.6L1362.6,1010.6L1362.6,1001.6L1370.3,1001.6L1370.3,967.9L1377.9,967.9L1377.9,984.5L1385.6,984.5L1385.6,1000.4L1393.3,1000.4L1393.3,991.3L1401.3,991.3L1401.3,987.2L1409.2,987.2L1409.2,979.9L1416.7,979.9L1416.7,1014.1L1424.9,1014.1L1424.9,996.5L1432.6,996.5L1432.6,986.7L1440.6,986.7L1440.6,982.5L1448.5,982.5L1448.5,974.3L1456,974.3L1456,983.3L1463.8,983.3L1463.8,979.4L1471.4,979.4L1471.4,976.5L1479.5,976.5L1479.5,967.4L1487.2,967.4L1487.2,1001.6L1494.9,1001.6L1494.9,987.6L1502.6,987.6L1502.6,985.5L1510.3,985.5L1510.3,987.6L1518,987.6L1518,987.2L1525.7,987.2L1525.7,991.9L1533.3,991.9L1533.3,974.8L1541,974.8L1541,1001.6L1548.7,1001.6L1548.7,989.6L1556.3,989.6L1556.3,986.7L1564,986.7L1564,1002.1L1572.2,1002.1L1572.2,1014.1L1579.7,1014.1L1579.7,1025.2L1587.9,1025.2L1587.9,994.1L1595.6,994.1L1595.6,992.7L1603.3,992.7L1603.3,987.6L1610.5,987.6L1610.5,999.2L1618.7,999.2L1618.7,990.1L1626.9,990.1L1626.9,1017.5L1634.4,1017.5L1634.4,994.1L1642.6,994.1L1642.6,961.6L1650.3,961.6L1650.3,973.1L1658.3,973.1L1658.3,986.7L1666.1,986.7L1666.1,989.3L1673.7,989.3L1673.7,1019.2L1681.5,1019.2L1681.5,991.9L1689.5,991.9L1689.5,975.6L1697.2,975.6L1697.2,1020.9L1704.9,1020.9L1704.9,989.3L1712.9,989.3L1712.9,984.5L1720.8,984.5L1720.8,1020.9L1728.3,1020.9L1728.3,1067.5L1736.2,1067.5L1736.2,1020.9L1743.7,1020.9L1743.7,1017.5L1751.5,1017.5L1751.5,976.5L1759,976.5L1759,1005.5L1766.4,1005.5L1766.4,858.1L1774.1,858.1" fill="none" stroke="#619CFF" stroke-width="2.9"/>
<path d="M309.7,973.5L321.8,973.5L321.8,989.3L331.5,989.3L331.5,979.1L343.2,979.1L343.2,1019.6L352.2,1019.6L352.2,1031.7L362.6,1031.7L362.6,1165.2L370.4,1165.2L370.4,1257.4L378.1,1257.4M387.3,1029.3L397,1029.3L397,991.7L404.3,991.7L404.3,1076.6L412.1,1076.6L412.1,1153L420.1,1153L420.1,1159.1L427.4,1159.1L427.4,1122.7L436.3,1122.7L436.3,1257.4L445.1,1257.4L445.1,1124.7L452.8,1124.7L452.8,1092.4L460.6,1092.4L460.6,1127.1L468.6,1127.1L468.6,1123.9L475.9,1123.9M1048.4,1100.6L1055.6,1100.6L1055.6,1030.3L1063.8,1030.3L1063.8,1086.3L1071.5,1086.3L1071.5,1129L1080.5,1129L1080.5,1056.7L1087.7,1056.7L1087.7,1163.5L1095.9,1163.5L1095.9,1106.3L1103.9,1106.3L1103.9,1128.5L1111.6,1128.5L1111.6,1106.8L1119.3,1106.8L1119.3,1103.7L1127,1103.7L1127,1258.2L1135,1258.2L1135,1258.2L1142.3,1258.2L1142.3,1127.3L1150.5,1127.3L1150.5,1064.4L1158.6,1064.4L1158.6,1129.3L1166.6,1129.3L1166.6,1168.6L1174.3,1168.6L1174.3,1074.7L1182.5,1074.7L1182.5,1061.9L1190.7,1061.9L1190.7,1108L1198.3,1108L1198.3,1121.1L1206.4,1121.1L1206.4,1258.2L1214.1,1258.2L1214.1,1158.3L1221.7,1158.3L1221.7,1123.9L1229.4,1123.9L1229.4,1086.3L1237.6,1086.3L1237.6,1070.9L1244.8,1070.9L1244.8,1072.1L1252.5,1072.1L1252.5,1098.2L1260.5,1098.2L1260.5,1102L1268.4,1102L1268.4,1076.7L1276.4,1076.7L1276.4,1126.8L1284.1,1126.8L1284.1,1122.5L1292.3,1122.5L1292.3,1161.8L1300.2,1161.8L1300.2,1160.1L1307.9,1160.1L1307.9,1106.3L1316,1106.3L1316,1084.9L1323.3,1084.9L1323.3,1086.6L1331.3,1086.6L1331.3,1122.8L1339.2,1122.8L1339.2,1085.8L1347.2,1085.8L1347.2,1053.3L1354.5,1053.3L1354.5,1075.5L1362.6,1075.5L1362.6,1083.6L1370.3,1083.6L1370.3,1031.1L1377.9,1031.1L1377.9,1084.1L1385.6,1084.1L1385.6,1160.4L1393.3,1160.4L1393.3,1087.5L1401.3,1087.5L1401.3,1258.2L1409.2,1258.2L1409.2,1124.2L1416.7,1124.2L1416.7,1058.4L1424.9,1058.4L1424.9,1161.8L1432.6,1161.8L1432.6,1049.9L1440.6,1049.9L1440.6,1258.2L1448.5,1258.2L1448.5,1124.2L1456,1124.2L1456,1078.1L1463.8,1078.1L1463.8,1064.1L1471.4,1064.1L1471.4,1088.7L1479.5,1088.7L1479.5,1080.1L1487.2,1080.1L1487.2,1171.2L1494.9,1171.2L1494.9,1165.2L1502.6,1165.2L1502.6,1079.5L1510.3,1079.5L1510.3,1078.4L1518,1078.4L1518,1089.2L1525.7,1089.2L1525.7,1077.7L1533.3,1077.7L1533.3,1077.2L1541,1077.2L1541,1090.9L1548.7,1090.9L1548.7,1214.7L1556.3,1214.7L1556.3,1066.1L1564,1066.1L1564,1128.5L1572.2,1128.5L1572.2,1258.2L1579.7,1258.2L1579.7,1105.1L1587.9,1105.1L1587.9,1063.6L1595.6,1063.6L1595.6,1213L1603.3,1213L1603.3,1258.2L1610.5,1258.2L1610.5,1088.3L1618.7,1088.3L1618.7,1122.1L1626.9,1122.1L1626.9,1073.3L1634.4,1073.3L1634.4,1124.5L1642.6,1124.5L1642.6,1052.5L1650.3,1052.5L1650.3,1100.6L1658.3,1100.6L1658.3,1122.1L1666.1,1122.1L1666.1,1258.2L1673.7,1258.2L1673.7,1157.5L1681.5,1157.5L1681.5,1086.6L1689.5,1086.6L1689.5,1063.6L1697.2,1063.6L1697.2,1122.5L1704.9,1122.5L1704.9,1214.7L1712.9,1214.7L1712.9,1126.2L1720.8,1126.2L1720.8,1258.2L1728.3,1258.2L1728.3,1122.8L1736.2,1122.8L1736.2,1258.2L1743.7,1258.2L1743.7,1074.7L1751.5,1074.7L1751.5,1258.2L1759,1258.2L1759,1258.2L1766.4,1258.2L1766.4,914.2L1774.1,914.2" fill="none" stroke="#F564E3" stroke-width="2.9"/>
<text x="607.6" y="777.2" font-size="24.6" text-anchor="start" fill="#000" >Sample</text>
<line x1="608.7" y1="800.8" x2="627.2" y2="800.8" stroke="#F8766D" stroke-width="2.6" />
<text x="643.9" y="807.6" font-size="20.6" text-anchor="start" fill="#000" >Ancient (Batagai)</text>
<line x1="608.7" y1="826.6" x2="627.2" y2="826.6" stroke="#B79F00" stroke-width="2.6" />
<text x="643.9" y="833.4" font-size="20.6" text-anchor="start" fill="#000" >Domestic (8)</text>
<line x1="608.7" y1="852.4" x2="627.2" y2="852.4" stroke="#00BA38" stroke-width="2.6" />
<text x="643.9" y="859.2" font-size="20.6" text-anchor="start" fill="#000" >Domestic donkey</text>
<line x1="608.7" y1="878.2" x2="627.2" y2="878.2" stroke="#00BFC4" stroke-width="2.6" />
<text x="643.9" y="885" font-size="20.6" text-anchor="start" fill="#000" >Onager</text>
<line x1="608.7" y1="904" x2="627.2" y2="904" stroke="#619CFF" stroke-width="2.6" />
<text x="643.9" y="910.8" font-size="20.6" text-anchor="start" fill="#000" >Przewalski&#8217;s horse (2)</text>
<line x1="608.7" y1="929.8" x2="627.2" y2="929.8" stroke="#F564E3" stroke-width="2.6" />
<text x="643.9" y="936.6" font-size="20.6" text-anchor="start" fill="#000" >Yakutian (4)</text>
<line x1="222.5" y1="790" x2="236.4" y2="790" stroke="#000" stroke-width="4" />
<text x="212" y="798.6" font-size="24.6" text-anchor="end" fill="#000" >&#8722;2</text>
<line x1="222.5" y1="914.8" x2="236.4" y2="914.8" stroke="#000" stroke-width="4" />
<text x="212" y="923.4" font-size="24.6" text-anchor="end" fill="#000" >&#8722;3</text>
<line x1="222.5" y1="1039.5" x2="236.4" y2="1039.5" stroke="#000" stroke-width="4" />
<text x="212" y="1048.1" font-size="24.6" text-anchor="end" fill="#000" >&#8722;4</text>
<line x1="222.5" y1="1164.3" x2="236.4" y2="1164.3" stroke="#000" stroke-width="4" />
<text x="212" y="1172.9" font-size="24.6" text-anchor="end" fill="#000" >&#8722;5</text>
<line x1="309.9" y1="1258" x2="309.9" y2="1271" stroke="#000" stroke-width="3.7" />
<text x="311" y="1303.8" font-size="25" text-anchor="middle" fill="#000" >0 M</text>
<line x1="464.9" y1="1258" x2="464.9" y2="1271" stroke="#000" stroke-width="3.7" />
<text x="467.3" y="1303.8" font-size="25" text-anchor="middle" fill="#000" >1 M</text>
<line x1="620" y1="1258" x2="620" y2="1271" stroke="#000" stroke-width="3.7" />
<text x="623.5" y="1303.8" font-size="25" text-anchor="middle" fill="#000" >2 M</text>
<line x1="775" y1="1258" x2="775" y2="1271" stroke="#000" stroke-width="3.7" />
<text x="779.8" y="1303.8" font-size="25" text-anchor="middle" fill="#000" >3 M</text>
<line x1="930.1" y1="1258" x2="930.1" y2="1271" stroke="#000" stroke-width="3.7" />
<text x="936.1" y="1303.8" font-size="25" text-anchor="middle" fill="#000" >4 M</text>
<line x1="1085.1" y1="1258" x2="1085.1" y2="1271" stroke="#000" stroke-width="3.7" />
<text x="1092.3" y="1303.8" font-size="25" text-anchor="middle" fill="#000" >5 M</text>
<line x1="1240.1" y1="1258" x2="1240.1" y2="1271" stroke="#000" stroke-width="3.7" />
<text x="1248.6" y="1303.8" font-size="25" text-anchor="middle" fill="#000" >6 M</text>
<line x1="1395.2" y1="1258" x2="1395.2" y2="1271" stroke="#000" stroke-width="3.7" />
<text x="1404.9" y="1303.8" font-size="25" text-anchor="middle" fill="#000" >7 M</text>
<line x1="1550.2" y1="1258" x2="1550.2" y2="1271" stroke="#000" stroke-width="3.7" />
<text x="1561.2" y="1303.8" font-size="25" text-anchor="middle" fill="#000" >8 M</text>
<line x1="1705.3" y1="1258" x2="1705.3" y2="1271" stroke="#000" stroke-width="3.7" />
<text x="1717.4" y="1303.8" font-size="25" text-anchor="middle" fill="#000" >9 M</text>
<text x="1039.2" y="1341.9" font-size="24.6" text-anchor="middle" fill="#000" >eMSYv3 (bp)</text>
<text transform="translate(159.1,987.5) rotate(-90)" font-size="24.9" text-anchor="middle">log 10(mismatch rate)</text>
<text x="138.3" y="718.7" font-size="41" font-weight="bold">b</text>
<line x1="309.2" y1="1394" x2="309.2" y2="1809" stroke="#EBEBEB" stroke-width="1.5" />
<line x1="387.1" y1="1394" x2="387.1" y2="1809" stroke="#F7F7F7" stroke-width="3" />
<line x1="464.9" y1="1394" x2="464.9" y2="1809" stroke="#EBEBEB" stroke-width="1.5" />
<line x1="542.8" y1="1394" x2="542.8" y2="1809" stroke="#F7F7F7" stroke-width="3" />
<line x1="620.7" y1="1394" x2="620.7" y2="1809" stroke="#EBEBEB" stroke-width="1.5" />
<line x1="698.6" y1="1394" x2="698.6" y2="1809" stroke="#F7F7F7" stroke-width="3" />
<line x1="776.5" y1="1394" x2="776.5" y2="1809" stroke="#EBEBEB" stroke-width="1.5" />
<line x1="854.3" y1="1394" x2="854.3" y2="1809" stroke="#F7F7F7" stroke-width="3" />
<line x1="932.2" y1="1394" x2="932.2" y2="1809" stroke="#EBEBEB" stroke-width="1.5" />
<line x1="1010.1" y1="1394" x2="1010.1" y2="1809" stroke="#F7F7F7" stroke-width="3" />
<line x1="1088" y1="1394" x2="1088" y2="1809" stroke="#EBEBEB" stroke-width="1.5" />
<line x1="1165.8" y1="1394" x2="1165.8" y2="1809" stroke="#F7F7F7" stroke-width="3" />
<line x1="1243.7" y1="1394" x2="1243.7" y2="1809" stroke="#EBEBEB" stroke-width="1.5" />
<line x1="1321.6" y1="1394" x2="1321.6" y2="1809" stroke="#F7F7F7" stroke-width="3" />
<line x1="1399.5" y1="1394" x2="1399.5" y2="1809" stroke="#EBEBEB" stroke-width="1.5" />
<line x1="1477.3" y1="1394" x2="1477.3" y2="1809" stroke="#F7F7F7" stroke-width="3" />
<line x1="1555.2" y1="1394" x2="1555.2" y2="1809" stroke="#EBEBEB" stroke-width="1.5" />
<line x1="1633.1" y1="1394" x2="1633.1" y2="1809" stroke="#F7F7F7" stroke-width="3" />
<line x1="1711" y1="1394" x2="1711" y2="1809" stroke="#EBEBEB" stroke-width="1.5" />
<line x1="1788.8" y1="1394" x2="1788.8" y2="1809" stroke="#F7F7F7" stroke-width="3" />
<line x1="272" y1="1409.6" x2="1845" y2="1409.6" stroke="#EBEBEB" stroke-width="1.5" />
<line x1="272" y1="1435.2" x2="1845" y2="1435.2" stroke="#EBEBEB" stroke-width="1.5" />
<line x1="272" y1="1460.9" x2="1845" y2="1460.9" stroke="#EBEBEB" stroke-width="1.5" />
<line x1="272" y1="1486.5" x2="1845" y2="1486.5" stroke="#EBEBEB" stroke-width="1.5" />
<line x1="272" y1="1512.2" x2="1845" y2="1512.2" stroke="#EBEBEB" stroke-width="1.5" />
<line x1="272" y1="1537.8" x2="1845" y2="1537.8" stroke="#EBEBEB" stroke-width="1.5" />
<line x1="272" y1="1563.5" x2="1845" y2="1563.5" stroke="#EBEBEB" stroke-width="1.5" />
<line x1="272" y1="1589.1" x2="1845" y2="1589.1" stroke="#EBEBEB" stroke-width="1.5" />
<line x1="272" y1="1614.8" x2="1845" y2="1614.8" stroke="#EBEBEB" stroke-width="1.5" />
<line x1="272" y1="1640.4" x2="1845" y2="1640.4" stroke="#EBEBEB" stroke-width="1.5" />
<line x1="272" y1="1666.1" x2="1845" y2="1666.1" stroke="#EBEBEB" stroke-width="1.5" />
<line x1="272" y1="1691.8" x2="1845" y2="1691.8" stroke="#EBEBEB" stroke-width="1.5" />
<line x1="272" y1="1717.4" x2="1845" y2="1717.4" stroke="#EBEBEB" stroke-width="1.5" />
<line x1="272" y1="1743" x2="1845" y2="1743" stroke="#EBEBEB" stroke-width="1.5" />
<line x1="272" y1="1768.7" x2="1845" y2="1768.7" stroke="#EBEBEB" stroke-width="1.5" />
<line x1="272" y1="1794.3" x2="1845" y2="1794.3" stroke="#EBEBEB" stroke-width="1.5" />
<path d="M342.5,1399.9v19.4M365,1399.9v19.4M421.2,1399.9v19.4M461.4,1399.9v19.4M472.8,1399.9v19.4M1059.4,1399.9v19.4M1072.7,1399.9v19.4M1122,1399.9v19.4M1129.4,1399.9v19.4M1135.1,1399.9v19.4M1177,1399.9v19.4M1185.9,1399.9v19.4M1242,1399.9v19.4M1265.9,1399.9v19.4M1309.5,1399.9v19.4M1328.4,1399.9v19.4M1333.2,1399.9v19.4M1338.5,1399.9v19.4M1348.8,1399.9v19.4M1397.6,1399.9v19.4M1402.1,1399.9v19.4M1430.8,1399.9v19.4M1442.8,1399.9v19.4M1492.4,1399.9v19.4M1575,1399.9v19.4M1604.3,1399.9v19.4M1656,1399.9v19.4M1728.4,1399.9v19.4" stroke="#F04848" stroke-width="1.2" fill="none"/>
<path d="M358.6,1399.9v19.4M427.7,1399.9v19.4M437.8,1399.9v19.4M458.1,1399.9v19.4M1052.7,1399.9v19.4M1086,1399.9v19.4M1109.9,1399.9v19.4M1143.6,1399.9v19.4M1234.6,1399.9v19.4M1273.5,1399.9v19.4M1376.3,1399.9v19.4M1382.7,1399.9v19.4M1407.3,1399.9v19.4M1423.9,1399.9v19.4M1438.2,1399.9v19.4M1511.2,1399.9v19.4M1550.3,1399.9v19.4M1566.1,1399.9v19.4M1582.3,1399.9v19.4M1589.6,1399.9v19.4M1596.5,1399.9v19.4M1613.2,1399.9v19.4M1636.5,1399.9v19.4M1640,1399.9v19.4M1648.7,1399.9v19.4M1673.5,1399.9v19.4M1687.8,1399.9v19.4M1715.5,1399.9v19.4M1722.9,1399.9v19.4" stroke="#FFB040" stroke-width="1.2" fill="none"/>
<path d="M353.6,1399.9v19.4M370.5,1399.9v19.4M1081.9,1399.9v19.4M1095.3,1399.9v19.4M1116.9,1399.9v19.4M1158.6,1399.9v19.4M1166.3,1399.9v19.4M1188.3,1399.9v19.4M1211.5,1399.9v19.4M1217.5,1399.9v19.4M1224.1,1399.9v19.4M1340.7,1399.9v19.4M1368.6,1399.9v19.4M1405,1399.9v19.4M1463.4,1399.9v19.4M1468.4,1399.9v19.4M1499.3,1399.9v19.4M1520.6,1399.9v19.4M1530.3,1399.9v19.4M1552.5,1399.9v19.4M1617.3,1399.9v19.4M1653.1,1399.9v19.4" stroke="#48E448" stroke-width="1.2" fill="none"/>
<path d="M375.1,1399.9v19.4M417.5,1399.9v19.4M440.2,1399.9v19.4M456.8,1399.9v19.4M1064.3,1399.9v19.4M1070.1,1399.9v19.4M1089.5,1399.9v19.4M1101.1,1399.9v19.4M1132.7,1399.9v19.4M1149.4,1399.9v19.4M1171.4,1399.9v19.4M1192,1399.9v19.4M1202.7,1399.9v19.4M1230.7,1399.9v19.4M1250.8,1399.9v19.4M1283.1,1399.9v19.4M1289.6,1399.9v19.4M1296.8,1399.9v19.4M1305.4,1399.9v19.4M1318.6,1399.9v19.4M1351.2,1399.9v19.4M1473.5,1399.9v19.4M1503.5,1399.9v19.4M1568.4,1399.9v19.4M1577.6,1399.9v19.4M1611,1399.9v19.4M1631.9,1399.9v19.4M1665.7,1399.9v19.4M1679.5,1399.9v19.4M1692.5,1399.9v19.4M1697.9,1399.9v19.4M1710.9,1399.9v19.4M1731.1,1399.9v19.4M1738.2,1399.9v19.4" stroke="#4848F0" stroke-width="1.2" fill="none"/>
<path d="M1060.6,1425.5v19.4M1130.1,1425.5v19.4M1192.2,1425.5v19.4M1379.2,1425.5v19.4M1533.5,1425.5v19.4" stroke="#F04848" stroke-width="1.2" fill="none"/>
<path d="M358.9,1425.5v19.4M1431.8,1425.5v19.4" stroke="#FFB040" stroke-width="1.2" fill="none"/>
<path d="M1563.5,1425.5v19.4" stroke="#4848F0" stroke-width="1.2" fill="none"/>
<path d="M1060.6,1451.2v19.4M1369.7,1451.2v19.4" stroke="#F04848" stroke-width="1.2" fill="none"/>
<path d="M358.9,1451.2v19.4" stroke="#FFB040" stroke-width="1.2" fill="none"/>
<path d="M1147.5,1451.2v19.4" stroke="#48E448" stroke-width="1.2" fill="none"/>
<path d="M427.1,1451.2v19.4M1564.5,1451.2v19.4" stroke="#4848F0" stroke-width="1.2" fill="none"/>
<path d="M463.6,1476.8v19.4M1060.6,1476.8v19.4M1192.2,1476.8v19.4M1551.9,1476.8v19.4M1767.3,1476.8v19.4" stroke="#F04848" stroke-width="1.2" fill="none"/>
<path d="M358.9,1476.8v19.4" stroke="#FFB040" stroke-width="1.2" fill="none"/>
<path d="M351.6,1476.8v19.4M473.2,1476.8v19.4M1377.6,1476.8v19.4M1453.9,1476.8v19.4" stroke="#48E448" stroke-width="1.2" fill="none"/>
<path d="M412.9,1476.8v19.4M1288.1,1476.8v19.4M1324.9,1476.8v19.4M1331.8,1476.8v19.4M1412.3,1476.8v19.4M1424.5,1476.8v19.4M1563.5,1476.8v19.4M1578.2,1476.8v19.4" stroke="#4848F0" stroke-width="1.2" fill="none"/>
<path d="M415.3,1502.5v19.4M1060.6,1502.5v19.4M1130.1,1502.5v19.4M1192.2,1502.5v19.4M1379.2,1502.5v19.4M1516.1,1502.5v19.4M1532.9,1502.5v19.4" stroke="#F04848" stroke-width="1.2" fill="none"/>
<path d="M358.9,1502.5v19.4M1430.2,1502.5v19.4" stroke="#FFB040" stroke-width="1.2" fill="none"/>
<path d="M1403.9,1502.5v19.4M1563.5,1502.5v19.4" stroke="#4848F0" stroke-width="1.2" fill="none"/>
<path d="M1060.6,1528.1v19.4M1093.7,1528.1v19.4M1163.3,1528.1v19.4M1172.7,1528.1v19.4M1191.2,1528.1v19.4" stroke="#F04848" stroke-width="1.2" fill="none"/>
<path d="M358.9,1528.1v19.4" stroke="#FFB040" stroke-width="1.2" fill="none"/>
<path d="M1377.6,1528.1v19.4" stroke="#48E448" stroke-width="1.2" fill="none"/>
<path d="M1283.3,1528.1v19.4M1481.9,1528.1v19.4M1564.5,1528.1v19.4" stroke="#4848F0" stroke-width="1.2" fill="none"/>
<path d="M1060.6,1553.8v19.4M1135.9,1553.8v19.4" stroke="#F04848" stroke-width="1.2" fill="none"/>
<path d="M351.2,1579.4v19.4M353,1579.4v19.4M365,1579.4v19.4M375.5,1579.4v19.4M401.5,1579.4v19.4M406.1,1579.4v19.4M412.9,1579.4v19.4M422.1,1579.4v19.4M424,1579.4v19.4M425.3,1579.4v19.4M430.4,1579.4v19.4M441.5,1579.4v19.4M446.1,1579.4v19.4M447.6,1579.4v19.4M448.3,1579.4v19.4M455.3,1579.4v19.4M458.1,1579.4v19.4M462.3,1579.4v19.4M1056.3,1579.4v19.4M1063,1579.4v19.4M1068,1579.4v19.4M1071.7,1579.4v19.4M1078.8,1579.4v19.4M1085.6,1579.4v19.4M1092.3,1579.4v19.4M1097.7,1579.4v19.4M1101.2,1579.4v19.4M1105.8,1579.4v19.4M1109.3,1579.4v19.4M1111.2,1579.4v19.4M1113.9,1579.4v19.4M1118.6,1579.4v19.4M1123.8,1579.4v19.4M1125.7,1579.4v19.4M1132.6,1579.4v19.4M1137.7,1579.4v19.4M1144.8,1579.4v19.4M1147.3,1579.4v19.4M1149.2,1579.4v19.4M1156.6,1579.4v19.4M1161.9,1579.4v19.4M1166.6,1579.4v19.4M1169.4,1579.4v19.4M1172.6,1579.4v19.4M1177.5,1579.4v19.4M1179.6,1579.4v19.4M1183.4,1579.4v19.4M1202.7,1579.4v19.4M1209.5,1579.4v19.4M1213.4,1579.4v19.4M1215.9,1579.4v19.4M1218.6,1579.4v19.4M1226.1,1579.4v19.4M1233,1579.4v19.4M1237.8,1579.4v19.4M1239.7,1579.4v19.4M1243,1579.4v19.4M1245,1579.4v19.4M1251.6,1579.4v19.4M1258.6,1579.4v19.4M1260.6,1579.4v19.4M1262.7,1579.4v19.4M1269.8,1579.4v19.4M1274.7,1579.4v19.4M1278.4,1579.4v19.4M1280.5,1579.4v19.4M1294.9,1579.4v19.4M1298.9,1579.4v19.4M1306.8,1579.4v19.4M1309.2,1579.4v19.4M1315.4,1579.4v19.4M1322.1,1579.4v19.4M1324.1,1579.4v19.4M1329.5,1579.4v19.4M1335.2,1579.4v19.4M1340.8,1579.4v19.4M1342.9,1579.4v19.4M1349.3,1579.4v19.4M1353.7,1579.4v19.4M1358.2,1579.4v19.4M1361.3,1579.4v19.4M1367.4,1579.4v19.4M1374.1,1579.4v19.4M1378.5,1579.4v19.4M1386,1579.4v19.4M1402.9,1579.4v19.4M1405.3,1579.4v19.4M1412.9,1579.4v19.4M1418.8,1579.4v19.4M1424,1579.4v19.4M1430.8,1579.4v19.4M1435.5,1579.4v19.4M1442,1579.4v19.4M1447,1579.4v19.4M1452.9,1579.4v19.4M1455.7,1579.4v19.4M1459.5,1579.4v19.4M1461.4,1579.4v19.4M1467.3,1579.4v19.4M1472.6,1579.4v19.4M1474.5,1579.4v19.4M1476.9,1579.4v19.4M1484.4,1579.4v19.4M1489.6,1579.4v19.4M1496.5,1579.4v19.4M1504.4,1579.4v19.4M1509,1579.4v19.4M1512.3,1579.4v19.4M1519.9,1579.4v19.4M1527.6,1579.4v19.4M1532.5,1579.4v19.4M1539.4,1579.4v19.4M1543.7,1579.4v19.4M1546.4,1579.4v19.4M1553.7,1579.4v19.4M1556.4,1579.4v19.4M1562.8,1579.4v19.4M1568.2,1579.4v19.4M1570.8,1579.4v19.4M1573.4,1579.4v19.4M1580.9,1579.4v19.4M1586.8,1579.4v19.4M1592.3,1579.4v19.4M1605.6,1579.4v19.4M1607.4,1579.4v19.4M1614.2,1579.4v19.4M1617,1579.4v19.4M1620.1,1579.4v19.4M1626.7,1579.4v19.4M1631,1579.4v19.4M1637.1,1579.4v19.4M1641.7,1579.4v19.4M1646.4,1579.4v19.4M1653.5,1579.4v19.4M1660.1,1579.4v19.4M1664.8,1579.4v19.4M1672.1,1579.4v19.4M1679.8,1579.4v19.4M1683,1579.4v19.4M1689.5,1579.4v19.4M1705.7,1579.4v19.4M1713,1579.4v19.4M1715.8,1579.4v19.4M1719.4,1579.4v19.4M1721.7,1579.4v19.4M1724.1,1579.4v19.4" stroke="#E4E4E4" stroke-width="1.3" fill="none"/>
<path d="M1059.5,1579.4v19.4M1184.3,1579.4v19.4" stroke="#F04848" stroke-width="1.2" fill="none"/>
<path d="M358,1579.4v19.4M1530.3,1579.4v19.4" stroke="#FFB040" stroke-width="1.2" fill="none"/>
<path d="M1211.7,1579.4v19.4" stroke="#48E448" stroke-width="1.2" fill="none"/>
<path d="M353.6,1605.1v19.4M364.6,1605.1v19.4M365.4,1605.1v19.4M369.2,1605.1v19.4M374.2,1605.1v19.4M403.3,1605.1v19.4M414.4,1605.1v19.4M417.7,1605.1v19.4M421.2,1605.1v19.4M424,1605.1v19.4M425.8,1605.1v19.4M427.7,1605.1v19.4M429.5,1605.1v19.4M435.4,1605.1v19.4M448.5,1605.1v19.4M454.6,1605.1v19.4M457.7,1605.1v19.4M465.8,1605.1v19.4M1056.3,1605.1v19.4M1058.3,1605.1v19.4M1063.6,1605.1v19.4M1065.3,1605.1v19.4M1069.1,1605.1v19.4M1073.8,1605.1v19.4M1079.6,1605.1v19.4M1083.7,1605.1v19.4M1086.1,1605.1v19.4M1088.3,1605.1v19.4M1090.7,1605.1v19.4M1093,1605.1v19.4M1098.9,1605.1v19.4M1105.4,1605.1v19.4M1111.2,1605.1v19.4M1113.6,1605.1v19.4M1119.5,1605.1v19.4M1125.4,1605.1v19.4M1127.4,1605.1v19.4M1133.4,1605.1v19.4M1139.2,1605.1v19.4M1142,1605.1v19.4M1144.4,1605.1v19.4M1151.9,1605.1v19.4M1157.1,1605.1v19.4M1161.6,1605.1v19.4M1168.2,1605.1v19.4M1170.6,1605.1v19.4M1177,1605.1v19.4M1181,1605.1v19.4M1184.4,1605.1v19.4M1202.7,1605.1v19.4M1207.4,1605.1v19.4M1210.7,1605.1v19.4M1217.9,1605.1v19.4M1222.4,1605.1v19.4M1226.3,1605.1v19.4M1228.9,1605.1v19.4M1234.9,1605.1v19.4M1237.7,1605.1v19.4M1243,1605.1v19.4M1249.8,1605.1v19.4M1255.2,1605.1v19.4M1262.3,1605.1v19.4M1267.4,1605.1v19.4M1272.7,1605.1v19.4M1279.8,1605.1v19.4M1294.9,1605.1v19.4M1301.9,1605.1v19.4M1309.2,1605.1v19.4M1312.9,1605.1v19.4M1318.5,1605.1v19.4M1325.9,1605.1v19.4M1327.7,1605.1v19.4M1334,1605.1v19.4M1336.3,1605.1v19.4M1341.1,1605.1v19.4M1344.1,1605.1v19.4M1346,1605.1v19.4M1348.3,1605.1v19.4M1356.1,1605.1v19.4M1358.6,1605.1v19.4M1364.2,1605.1v19.4M1366.1,1605.1v19.4M1370.9,1605.1v19.4M1376,1605.1v19.4M1379.7,1605.1v19.4M1385.8,1605.1v19.4M1388,1605.1v19.4M1402.9,1605.1v19.4M1410.8,1605.1v19.4M1418.4,1605.1v19.4M1422.8,1605.1v19.4M1427.6,1605.1v19.4M1434.2,1605.1v19.4M1436.4,1605.1v19.4M1442.5,1605.1v19.4M1447.3,1605.1v19.4M1452.4,1605.1v19.4M1455.4,1605.1v19.4M1459,1605.1v19.4M1463.5,1605.1v19.4M1468,1605.1v19.4M1475.3,1605.1v19.4M1479.3,1605.1v19.4M1483.8,1605.1v19.4M1489.2,1605.1v19.4M1497,1605.1v19.4M1500.3,1605.1v19.4M1502.9,1605.1v19.4M1508,1605.1v19.4M1511,1605.1v19.4M1516.3,1605.1v19.4M1522,1605.1v19.4M1524.4,1605.1v19.4M1528.9,1605.1v19.4M1530.9,1605.1v19.4M1535.1,1605.1v19.4M1539.4,1605.1v19.4M1542.6,1605.1v19.4M1546.7,1605.1v19.4M1554.2,1605.1v19.4M1557.4,1605.1v19.4M1562,1605.1v19.4M1565.8,1605.1v19.4M1569.7,1605.1v19.4M1575.1,1605.1v19.4M1578.5,1605.1v19.4M1585.2,1605.1v19.4M1589.9,1605.1v19.4M1591.8,1605.1v19.4M1605.6,1605.1v19.4M1609.3,1605.1v19.4M1615.3,1605.1v19.4M1620.7,1605.1v19.4M1623,1605.1v19.4M1624.8,1605.1v19.4M1629.5,1605.1v19.4M1635.3,1605.1v19.4M1638.3,1605.1v19.4M1642.1,1605.1v19.4M1649.6,1605.1v19.4M1653.7,1605.1v19.4M1655.9,1605.1v19.4M1658.7,1605.1v19.4M1661.1,1605.1v19.4M1666.3,1605.1v19.4M1669,1605.1v19.4M1676,1605.1v19.4M1683.5,1605.1v19.4M1705.7,1605.1v19.4M1708.8,1605.1v19.4M1712.7,1605.1v19.4M1717.5,1605.1v19.4M1725.2,1605.1v19.4M1727.8,1605.1v19.4" stroke="#E4E4E4" stroke-width="1.3" fill="none"/>
<path d="M350.8,1605.1v19.4M1114.3,1605.1v19.4M1181.7,1605.1v19.4M1457.1,1605.1v19.4M1655.6,1605.1v19.4M1710.9,1605.1v19.4" stroke="#F04848" stroke-width="1.2" fill="none"/>
<path d="M358.6,1605.1v19.4M1145.9,1605.1v19.4M1237,1605.1v19.4M1254.4,1605.1v19.4M1363.4,1605.1v19.4M1502.9,1605.1v19.4M1553,1605.1v19.4M1658.3,1605.1v19.4" stroke="#FFB040" stroke-width="1.2" fill="none"/>
<path d="M451.1,1605.1v19.4M1083.2,1605.1v19.4M1337,1605.1v19.4M1437.1,1605.1v19.4M1441.3,1605.1v19.4M1447.6,1605.1v19.4M1497.7,1605.1v19.4M1618.8,1605.1v19.4M1707.3,1605.1v19.4" stroke="#48E448" stroke-width="1.2" fill="none"/>
<path d="M408.3,1605.1v19.4M1221.2,1605.1v19.4M1246.5,1605.1v19.4M1314.9,1605.1v19.4M1427.6,1605.1v19.4M1515,1605.1v19.4M1518.7,1605.1v19.4M1530.8,1605.1v19.4M1560.9,1605.1v19.4M1590.9,1605.1v19.4M1601.9,1605.1v19.4M1605.6,1605.1v19.4" stroke="#4848F0" stroke-width="1.2" fill="none"/>
<path d="M353.6,1630.7v19.4M364.6,1630.7v19.4M366.5,1630.7v19.4M375.7,1630.7v19.4M405.5,1630.7v19.4M414.4,1630.7v19.4M417.7,1630.7v19.4M422.5,1630.7v19.4M430.4,1630.7v19.4M432.3,1630.7v19.4M434.1,1630.7v19.4M436,1630.7v19.4M439.6,1630.7v19.4M441.5,1630.7v19.4M449.4,1630.7v19.4M465.4,1630.7v19.4M469.5,1630.7v19.4M1056.3,1630.7v19.4M1062.8,1630.7v19.4M1066.5,1630.7v19.4M1073.7,1630.7v19.4M1078.2,1630.7v19.4M1086.2,1630.7v19.4M1088.3,1630.7v19.4M1095,1630.7v19.4M1098.8,1630.7v19.4M1101.2,1630.7v19.4M1108,1630.7v19.4M1111.2,1630.7v19.4M1119,1630.7v19.4M1124.4,1630.7v19.4M1126.8,1630.7v19.4M1134.6,1630.7v19.4M1141.6,1630.7v19.4M1146.5,1630.7v19.4M1153.1,1630.7v19.4M1157.7,1630.7v19.4M1159.7,1630.7v19.4M1165.1,1630.7v19.4M1168.1,1630.7v19.4M1170.3,1630.7v19.4M1174.5,1630.7v19.4M1180.2,1630.7v19.4M1184.4,1630.7v19.4M1202.7,1630.7v19.4M1209.7,1630.7v19.4M1216.5,1630.7v19.4M1218.9,1630.7v19.4M1223.5,1630.7v19.4M1227.4,1630.7v19.4M1232.1,1630.7v19.4M1239.6,1630.7v19.4M1243.9,1630.7v19.4M1249.4,1630.7v19.4M1252.7,1630.7v19.4M1256.5,1630.7v19.4M1260.9,1630.7v19.4M1264,1630.7v19.4M1270.4,1630.7v19.4M1276.6,1630.7v19.4M1284.2,1630.7v19.4M1294.9,1630.7v19.4M1302.3,1630.7v19.4M1307,1630.7v19.4M1311.6,1630.7v19.4M1315.2,1630.7v19.4M1318,1630.7v19.4M1319.9,1630.7v19.4M1323.4,1630.7v19.4M1329.1,1630.7v19.4M1332,1630.7v19.4M1335.4,1630.7v19.4M1337.3,1630.7v19.4M1343.7,1630.7v19.4M1346.3,1630.7v19.4M1349.9,1630.7v19.4M1354.3,1630.7v19.4M1357,1630.7v19.4M1364.8,1630.7v19.4M1372.4,1630.7v19.4M1376.1,1630.7v19.4M1380.7,1630.7v19.4M1384.7,1630.7v19.4M1388.2,1630.7v19.4M1392.2,1630.7v19.4M1402.9,1630.7v19.4M1409.3,1630.7v19.4M1411,1630.7v19.4M1416.1,1630.7v19.4M1423.7,1630.7v19.4M1426.7,1630.7v19.4M1430.6,1630.7v19.4M1438.5,1630.7v19.4M1443.2,1630.7v19.4M1445,1630.7v19.4M1452.4,1630.7v19.4M1457.9,1630.7v19.4M1462.4,1630.7v19.4M1465.6,1630.7v19.4M1469.9,1630.7v19.4M1473.8,1630.7v19.4M1478.1,1630.7v19.4M1485.6,1630.7v19.4M1493.3,1630.7v19.4M1498.1,1630.7v19.4M1503.3,1630.7v19.4M1505.1,1630.7v19.4M1506.9,1630.7v19.4M1514.2,1630.7v19.4M1518.8,1630.7v19.4M1522.8,1630.7v19.4M1526.4,1630.7v19.4M1532.4,1630.7v19.4M1536.6,1630.7v19.4M1541.1,1630.7v19.4M1547.8,1630.7v19.4M1551.3,1630.7v19.4M1556.6,1630.7v19.4M1561.6,1630.7v19.4M1566.3,1630.7v19.4M1573.2,1630.7v19.4M1575.1,1630.7v19.4M1579.8,1630.7v19.4M1586.5,1630.7v19.4M1588.8,1630.7v19.4M1592.8,1630.7v19.4M1605.6,1630.7v19.4M1608.5,1630.7v19.4M1611.3,1630.7v19.4M1619,1630.7v19.4M1622.6,1630.7v19.4M1625.7,1630.7v19.4M1633.3,1630.7v19.4M1638.8,1630.7v19.4M1640.7,1630.7v19.4M1644,1630.7v19.4M1648.8,1630.7v19.4M1655.1,1630.7v19.4M1661.5,1630.7v19.4M1667.1,1630.7v19.4M1674.7,1630.7v19.4M1679.1,1630.7v19.4M1683.7,1630.7v19.4M1688.8,1630.7v19.4M1705.7,1630.7v19.4M1713.4,1630.7v19.4M1716,1630.7v19.4M1722,1630.7v19.4M1728,1630.7v19.4" stroke="#E4E4E4" stroke-width="1.3" fill="none"/>
<path d="M1378.1,1630.7v19.4M1458.2,1630.7v19.4M1518.7,1630.7v19.4M1554.5,1630.7v19.4" stroke="#F04848" stroke-width="1.2" fill="none"/>
<path d="M358.6,1630.7v19.4M403.3,1630.7v19.4M1084.3,1630.7v19.4M1235.4,1630.7v19.4M1238,1630.7v19.4M1310.7,1630.7v19.4M1449.2,1630.7v19.4M1484.5,1630.7v19.4M1515,1630.7v19.4M1660.9,1630.7v19.4" stroke="#FFB040" stroke-width="1.2" fill="none"/>
<path d="M1149,1630.7v19.4M1154.3,1630.7v19.4M1169.6,1630.7v19.4M1179.1,1630.7v19.4M1337,1630.7v19.4M1347.6,1630.7v19.4M1355.5,1630.7v19.4M1416,1630.7v19.4M1505.6,1630.7v19.4M1510.8,1630.7v19.4M1601.9,1630.7v19.4M1658.3,1630.7v19.4" stroke="#48E448" stroke-width="1.2" fill="none"/>
<path d="M408.3,1630.7v19.4M1114.3,1630.7v19.4M1263.3,1630.7v19.4M1281.7,1630.7v19.4M1407.1,1630.7v19.4M1433.4,1630.7v19.4M1530.8,1630.7v19.4M1589.8,1630.7v19.4M1730.9,1630.7v19.4" stroke="#4848F0" stroke-width="1.2" fill="none"/>
<path d="M351.6,1656.4v19.4M353.4,1656.4v19.4M358.6,1656.4v19.4M364.6,1656.4v19.4M365.4,1656.4v19.4M369.2,1656.4v19.4M407.4,1656.4v19.4M411.6,1656.4v19.4M414.2,1656.4v19.4M421.2,1656.4v19.4M424.9,1656.4v19.4M428.6,1656.4v19.4M436.9,1656.4v19.4M443.3,1656.4v19.4M449.4,1656.4v19.4M458.6,1656.4v19.4M466.4,1656.4v19.4M469.5,1656.4v19.4M1056.3,1656.4v19.4M1059.2,1656.4v19.4M1062.8,1656.4v19.4M1070,1656.4v19.4M1075,1656.4v19.4M1080,1656.4v19.4M1086.6,1656.4v19.4M1090.7,1656.4v19.4M1094.2,1656.4v19.4M1096.6,1656.4v19.4M1099.1,1656.4v19.4M1106.7,1656.4v19.4M1114.2,1656.4v19.4M1121.8,1656.4v19.4M1129.7,1656.4v19.4M1131.8,1656.4v19.4M1134.1,1656.4v19.4M1138.8,1656.4v19.4M1143.8,1656.4v19.4M1149.1,1656.4v19.4M1154.1,1656.4v19.4M1158.6,1656.4v19.4M1165.5,1656.4v19.4M1172,1656.4v19.4M1179.5,1656.4v19.4M1183.1,1656.4v19.4M1186.8,1656.4v19.4M1189.3,1656.4v19.4M1202.7,1656.4v19.4M1205.2,1656.4v19.4M1207.8,1656.4v19.4M1214.5,1656.4v19.4M1219.5,1656.4v19.4M1221.8,1656.4v19.4M1225.5,1656.4v19.4M1229.2,1656.4v19.4M1234.9,1656.4v19.4M1241,1656.4v19.4M1248.1,1656.4v19.4M1251.6,1656.4v19.4M1255,1656.4v19.4M1260.5,1656.4v19.4M1266.7,1656.4v19.4M1273,1656.4v19.4M1276.5,1656.4v19.4M1281,1656.4v19.4M1294.9,1656.4v19.4M1302.8,1656.4v19.4M1310.7,1656.4v19.4M1312.9,1656.4v19.4M1318,1656.4v19.4M1320.1,1656.4v19.4M1324.2,1656.4v19.4M1328.2,1656.4v19.4M1330.2,1656.4v19.4M1337.4,1656.4v19.4M1343.7,1656.4v19.4M1349.9,1656.4v19.4M1351.6,1656.4v19.4M1356.5,1656.4v19.4M1360.9,1656.4v19.4M1366.3,1656.4v19.4M1370,1656.4v19.4M1374,1656.4v19.4M1376.6,1656.4v19.4M1379.6,1656.4v19.4M1383.1,1656.4v19.4M1384.9,1656.4v19.4M1390,1656.4v19.4M1402.9,1656.4v19.4M1407.3,1656.4v19.4M1412.2,1656.4v19.4M1415.3,1656.4v19.4M1422.6,1656.4v19.4M1427.8,1656.4v19.4M1434.6,1656.4v19.4M1439,1656.4v19.4M1443.1,1656.4v19.4M1450,1656.4v19.4M1454.7,1656.4v19.4M1458.8,1656.4v19.4M1464.2,1656.4v19.4M1468.6,1656.4v19.4M1474.3,1656.4v19.4M1476.4,1656.4v19.4M1478.5,1656.4v19.4M1482.2,1656.4v19.4M1487.9,1656.4v19.4M1494.8,1656.4v19.4M1500.5,1656.4v19.4M1507.8,1656.4v19.4M1513.5,1656.4v19.4M1515.6,1656.4v19.4M1522.9,1656.4v19.4M1528.2,1656.4v19.4M1531,1656.4v19.4M1537.9,1656.4v19.4M1541.4,1656.4v19.4M1547.2,1656.4v19.4M1550.2,1656.4v19.4M1554,1656.4v19.4M1559.4,1656.4v19.4M1565,1656.4v19.4M1568.6,1656.4v19.4M1573.1,1656.4v19.4M1580.2,1656.4v19.4M1585,1656.4v19.4M1587.8,1656.4v19.4M1605.6,1656.4v19.4M1613.1,1656.4v19.4M1620.1,1656.4v19.4M1623,1656.4v19.4M1626.7,1656.4v19.4M1630.8,1656.4v19.4M1634,1656.4v19.4M1638.1,1656.4v19.4M1641.6,1656.4v19.4M1644.9,1656.4v19.4M1651.2,1656.4v19.4M1654.3,1656.4v19.4M1657.1,1656.4v19.4M1660.3,1656.4v19.4M1663.3,1656.4v19.4M1668.9,1656.4v19.4M1674.8,1656.4v19.4M1680.3,1656.4v19.4M1685.7,1656.4v19.4M1705.7,1656.4v19.4M1707.8,1656.4v19.4M1712.6,1656.4v19.4M1716,1656.4v19.4M1722,1656.4v19.4M1726.1,1656.4v19.4" stroke="#E4E4E4" stroke-width="1.3" fill="none"/>
<path d="M1183.3,1656.4v19.4M1384.4,1656.4v19.4" stroke="#F04848" stroke-width="1.2" fill="none"/>
<path d="M462.3,1656.4v19.4" stroke="#FFB040" stroke-width="1.2" fill="none"/>
<path d="M1357,1656.4v19.4M1495,1656.4v19.4" stroke="#48E448" stroke-width="1.2" fill="none"/>
<path d="M1403.9,1656.4v19.4M1533.5,1656.4v19.4" stroke="#4848F0" stroke-width="1.2" fill="none"/>
<path d="M407.4,1682v19.4M457.1,1682v19.4M471.3,1682v19.4M1057.8,1682v19.4M1085.4,1682v19.4M1094.5,1682v19.4M1134.6,1682v19.4M1213.6,1682v19.4M1229.3,1682v19.4M1263.5,1682v19.4M1266.8,1682v19.4M1283.3,1682v19.4M1310.2,1682v19.4M1315.5,1682v19.4M1323.1,1682v19.4M1327.2,1682v19.4M1365.9,1682v19.4M1370.7,1682v19.4M1405.5,1682v19.4M1418.1,1682v19.4M1442.1,1682v19.4M1476.3,1682v19.4M1483,1682v19.4M1492,1682v19.4M1532.5,1682v19.4M1550.8,1682v19.4M1559.9,1682v19.4M1561.9,1682v19.4M1613,1682v19.4M1642.3,1682v19.4M1647.2,1682v19.4M1686.6,1682v19.4M1691.7,1682v19.4M1710.9,1682v19.4" stroke="#F04848" stroke-width="1.2" fill="none"/>
<path d="M358.9,1682v19.4M375.5,1682v19.4M403.7,1682v19.4M411.4,1682v19.4M414.8,1682v19.4M440.2,1682v19.4M451.6,1682v19.4M1067.5,1682v19.4M1072.9,1682v19.4M1115.1,1682v19.4M1146.3,1682v19.4M1151,1682v19.4M1156.8,1682v19.4M1160.7,1682v19.4M1173.1,1682v19.4M1178.8,1682v19.4M1211,1682v19.4M1246.3,1682v19.4M1248.6,1682v19.4M1255.2,1682v19.4M1274.8,1682v19.4M1298.7,1682v19.4M1376.1,1682v19.4M1390,1682v19.4M1397.9,1682v19.4M1420.8,1682v19.4M1434.1,1682v19.4M1493.9,1682v19.4M1499.3,1682v19.4M1506.9,1682v19.4M1509.4,1682v19.4M1536.7,1682v19.4M1542.2,1682v19.4M1567.8,1682v19.4M1605.6,1682v19.4M1625.8,1682v19.4M1654.2,1682v19.4M1659.7,1682v19.4M1664.6,1682v19.4" stroke="#FFB040" stroke-width="1.2" fill="none"/>
<path d="M354.5,1682v19.4M370.9,1682v19.4M428.2,1682v19.4M448.3,1682v19.4M464,1682v19.4M1060.5,1682v19.4M1070.1,1682v19.4M1078.1,1682v19.4M1080.9,1682v19.4M1101.2,1682v19.4M1120.7,1682v19.4M1139.4,1682v19.4M1166.4,1682v19.4M1187,1682v19.4M1190,1682v19.4M1205.4,1682v19.4M1222.9,1682v19.4M1231.8,1682v19.4M1234.5,1682v19.4M1242.3,1682v19.4M1272,1682v19.4M1287,1682v19.4M1318.9,1682v19.4M1335.4,1682v19.4M1338.1,1682v19.4M1345.1,1682v19.4M1355.6,1682v19.4M1359.2,1682v19.4M1363,1682v19.4M1392.2,1682v19.4M1411.2,1682v19.4M1456,1682v19.4M1462.7,1682v19.4M1513.9,1682v19.4M1529,1682v19.4M1539.7,1682v19.4M1620.3,1682v19.4M1651.2,1682v19.4M1662.3,1682v19.4M1684.6,1682v19.4M1693.9,1682v19.4M1717,1682v19.4" stroke="#48E448" stroke-width="1.2" fill="none"/>
<path d="M364.5,1682v19.4M435.4,1682v19.4M460.5,1682v19.4M1052.7,1682v19.4M1064.6,1682v19.4M1091.2,1682v19.4M1107.1,1682v19.4M1128.3,1682v19.4M1219.6,1682v19.4M1295.3,1682v19.4M1306,1682v19.4M1312.7,1682v19.4M1330.1,1682v19.4M1350.8,1682v19.4M1368.9,1682v19.4M1383.7,1682v19.4M1408.8,1682v19.4M1427.2,1682v19.4M1436.9,1682v19.4M1439.3,1682v19.4M1448.7,1682v19.4M1471.4,1682v19.4M1485.3,1682v19.4M1518.8,1682v19.4M1525.7,1682v19.4M1556.4,1682v19.4M1571,1682v19.4M1576.4,1682v19.4M1583.5,1682v19.4M1587.9,1682v19.4M1591.2,1682v19.4M1634,1682v19.4M1713.1,1682v19.4" stroke="#4848F0" stroke-width="1.2" fill="none"/>
<path d="M407.4,1707.7v19.4M457.1,1707.7v19.4M471.3,1707.7v19.4M1057.8,1707.7v19.4M1085.4,1707.7v19.4M1094.5,1707.7v19.4M1134.6,1707.7v19.4M1213.6,1707.7v19.4M1229.3,1707.7v19.4M1263.5,1707.7v19.4M1266.8,1707.7v19.4M1283.3,1707.7v19.4M1310.2,1707.7v19.4M1315.5,1707.7v19.4M1323.1,1707.7v19.4M1327.2,1707.7v19.4M1365.9,1707.7v19.4M1370.7,1707.7v19.4M1405.5,1707.7v19.4M1418.1,1707.7v19.4M1442.1,1707.7v19.4M1476.3,1707.7v19.4M1483,1707.7v19.4M1492,1707.7v19.4M1532.5,1707.7v19.4M1550.8,1707.7v19.4M1559.9,1707.7v19.4M1561.9,1707.7v19.4M1613,1707.7v19.4M1642.3,1707.7v19.4M1647.2,1707.7v19.4M1686.6,1707.7v19.4M1691.7,1707.7v19.4M1710.9,1707.7v19.4" stroke="#F04848" stroke-width="1.2" fill="none"/>
<path d="M358.9,1707.7v19.4M375.5,1707.7v19.4M403.7,1707.7v19.4M411.4,1707.7v19.4M414.8,1707.7v19.4M440.2,1707.7v19.4M451.6,1707.7v19.4M1067.5,1707.7v19.4M1072.9,1707.7v19.4M1115.1,1707.7v19.4M1146.3,1707.7v19.4M1151,1707.7v19.4M1156.8,1707.7v19.4M1160.7,1707.7v19.4M1173.1,1707.7v19.4M1178.8,1707.7v19.4M1211,1707.7v19.4M1246.3,1707.7v19.4M1248.6,1707.7v19.4M1255.2,1707.7v19.4M1274.8,1707.7v19.4M1298.7,1707.7v19.4M1376.1,1707.7v19.4M1390,1707.7v19.4M1397.9,1707.7v19.4M1420.8,1707.7v19.4M1434.1,1707.7v19.4M1493.9,1707.7v19.4M1499.3,1707.7v19.4M1506.9,1707.7v19.4M1509.4,1707.7v19.4M1536.7,1707.7v19.4M1542.2,1707.7v19.4M1567.8,1707.7v19.4M1605.6,1707.7v19.4M1625.8,1707.7v19.4M1654.2,1707.7v19.4M1659.7,1707.7v19.4M1664.6,1707.7v19.4" stroke="#FFB040" stroke-width="1.2" fill="none"/>
<path d="M354.5,1707.7v19.4M370.9,1707.7v19.4M428.2,1707.7v19.4M448.3,1707.7v19.4M464,1707.7v19.4M1060.5,1707.7v19.4M1070.1,1707.7v19.4M1078.1,1707.7v19.4M1080.9,1707.7v19.4M1101.2,1707.7v19.4M1120.7,1707.7v19.4M1139.4,1707.7v19.4M1166.4,1707.7v19.4M1187,1707.7v19.4M1190,1707.7v19.4M1205.4,1707.7v19.4M1222.9,1707.7v19.4M1231.8,1707.7v19.4M1234.5,1707.7v19.4M1242.3,1707.7v19.4M1272,1707.7v19.4M1287,1707.7v19.4M1318.9,1707.7v19.4M1335.4,1707.7v19.4M1338.1,1707.7v19.4M1345.1,1707.7v19.4M1355.6,1707.7v19.4M1359.2,1707.7v19.4M1363,1707.7v19.4M1392.2,1707.7v19.4M1411.2,1707.7v19.4M1456,1707.7v19.4M1462.7,1707.7v19.4M1513.9,1707.7v19.4M1529,1707.7v19.4M1539.7,1707.7v19.4M1620.3,1707.7v19.4M1651.2,1707.7v19.4M1662.3,1707.7v19.4M1684.6,1707.7v19.4M1693.9,1707.7v19.4M1717,1707.7v19.4M1732,1707.7v19.4" stroke="#48E448" stroke-width="1.2" fill="none"/>
<path d="M364.5,1707.7v19.4M435.4,1707.7v19.4M460.5,1707.7v19.4M1052.7,1707.7v19.4M1064.6,1707.7v19.4M1091.2,1707.7v19.4M1107.1,1707.7v19.4M1128.3,1707.7v19.4M1219.6,1707.7v19.4M1295.3,1707.7v19.4M1306,1707.7v19.4M1312.7,1707.7v19.4M1330.1,1707.7v19.4M1350.8,1707.7v19.4M1368.9,1707.7v19.4M1383.7,1707.7v19.4M1408.8,1707.7v19.4M1427.2,1707.7v19.4M1436.9,1707.7v19.4M1439.3,1707.7v19.4M1448.7,1707.7v19.4M1471.4,1707.7v19.4M1485.3,1707.7v19.4M1518.8,1707.7v19.4M1525.7,1707.7v19.4M1556.4,1707.7v19.4M1571,1707.7v19.4M1576.4,1707.7v19.4M1583.5,1707.7v19.4M1587.9,1707.7v19.4M1591.2,1707.7v19.4M1634,1707.7v19.4M1713.1,1707.7v19.4" stroke="#4848F0" stroke-width="1.2" fill="none"/>
<path d="M342.5,1733.3v19.4M350.3,1733.3v19.4M364.6,1733.3v19.4M417.9,1733.3v19.4M457.5,1733.3v19.4M467.3,1733.3v19.4M1068.8,1733.3v19.4M1078.8,1733.3v19.4M1101.3,1733.3v19.4M1136.9,1733.3v19.4M1191.1,1733.3v19.4M1209.8,1733.3v19.4M1231.7,1733.3v19.4M1265.1,1733.3v19.4M1291.5,1733.3v19.4M1300.8,1733.3v19.4M1313.8,1733.3v19.4M1326.4,1733.3v19.4M1343,1733.3v19.4M1359.8,1733.3v19.4M1433.6,1733.3v19.4M1474.9,1733.3v19.4M1485.4,1733.3v19.4M1503.4,1733.3v19.4M1562.6,1733.3v19.4M1568.6,1733.3v19.4M1574.9,1733.3v19.4M1578.3,1733.3v19.4M1586.9,1733.3v19.4M1597.2,1733.3v19.4M1607.3,1733.3v19.4M1612.5,1733.3v19.4M1658.6,1733.3v19.4M1665.4,1733.3v19.4M1671.5,1733.3v19.4M1691.8,1733.3v19.4M1700.4,1733.3v19.4M1709,1733.3v19.4M1721.7,1733.3v19.4" stroke="#F04848" stroke-width="1.2" fill="none"/>
<path d="M358,1733.3v19.4M424,1733.3v19.4M427.1,1733.3v19.4M432.6,1733.3v19.4M465.1,1733.3v19.4M1055.3,1733.3v19.4M1062.7,1733.3v19.4M1120.3,1733.3v19.4M1130.9,1733.3v19.4M1147.9,1733.3v19.4M1158.8,1733.3v19.4M1161.3,1733.3v19.4M1173.4,1733.3v19.4M1182.4,1733.3v19.4M1202.7,1733.3v19.4M1207.2,1733.3v19.4M1227.2,1733.3v19.4M1248.3,1733.3v19.4M1286.4,1733.3v19.4M1329,1733.3v19.4M1337.4,1733.3v19.4M1368.6,1733.3v19.4M1383,1733.3v19.4M1397.1,1733.3v19.4M1402.7,1733.3v19.4M1411.3,1733.3v19.4M1414.5,1733.3v19.4M1422.5,1733.3v19.4M1430.2,1733.3v19.4M1437.8,1733.3v19.4M1459.1,1733.3v19.4M1467.4,1733.3v19.4M1482.2,1733.3v19.4M1489.6,1733.3v19.4M1508.4,1733.3v19.4M1514.3,1733.3v19.4M1525.1,1733.3v19.4M1559,1733.3v19.4M1570.7,1733.3v19.4M1580.9,1733.3v19.4M1591.6,1733.3v19.4M1619.7,1733.3v19.4M1638.8,1733.3v19.4M1674.5,1733.3v19.4M1678.6,1733.3v19.4M1684.1,1733.3v19.4" stroke="#FFB040" stroke-width="1.2" fill="none"/>
<path d="M353.6,1733.3v19.4M370.5,1733.3v19.4M409.6,1733.3v19.4M421.6,1733.3v19.4M444.2,1733.3v19.4M1081.7,1733.3v19.4M1099.4,1733.3v19.4M1105.7,1733.3v19.4M1113.9,1733.3v19.4M1126,1733.3v19.4M1140.9,1733.3v19.4M1168.2,1733.3v19.4M1217.9,1733.3v19.4M1221.5,1733.3v19.4M1236,1733.3v19.4M1244.9,1733.3v19.4M1258.2,1733.3v19.4M1271.1,1733.3v19.4M1276.3,1733.3v19.4M1281.6,1733.3v19.4M1318.4,1733.3v19.4M1351.1,1733.3v19.4M1374.8,1733.3v19.4M1444.9,1733.3v19.4M1452.8,1733.3v19.4M1510.6,1733.3v19.4M1521.8,1733.3v19.4M1531.5,1733.3v19.4M1545.1,1733.3v19.4M1627.4,1733.3v19.4M1631.1,1733.3v19.4M1634.4,1733.3v19.4M1647.3,1733.3v19.4M1656.7,1733.3v19.4M1668.9,1733.3v19.4M1711.6,1733.3v19.4" stroke="#48E448" stroke-width="1.2" fill="none"/>
<path d="M374.8,1733.3v19.4M414.2,1733.3v19.4M435.4,1733.3v19.4M452.5,1733.3v19.4M461.7,1733.3v19.4M1073.5,1733.3v19.4M1075.6,1733.3v19.4M1087.2,1733.3v19.4M1092.6,1733.3v19.4M1095.5,1733.3v19.4M1155.1,1733.3v19.4M1180.2,1733.3v19.4M1240.4,1733.3v19.4M1256.2,1733.3v19.4M1297.8,1733.3v19.4M1303.9,1733.3v19.4M1311.3,1733.3v19.4M1363.1,1733.3v19.4M1388.7,1733.3v19.4M1448.2,1733.3v19.4M1497.7,1733.3v19.4M1529,1733.3v19.4M1551.8,1733.3v19.4M1602.4,1733.3v19.4M1645.4,1733.3v19.4M1651.5,1733.3v19.4M1716.6,1733.3v19.4" stroke="#4848F0" stroke-width="1.2" fill="none"/>
<path d="M458.6,1759v19.4M1065.8,1759v19.4M1068.3,1759v19.4M1117.9,1759v19.4M1131.2,1759v19.4M1158.9,1759v19.4M1175.2,1759v19.4M1209.5,1759v19.4M1213.4,1759v19.4M1338.9,1759v19.4M1376.5,1759v19.4M1390,1759v19.4M1399.3,1759v19.4M1436.3,1759v19.4M1442.3,1759v19.4M1462.5,1759v19.4M1490,1759v19.4M1501.6,1759v19.4M1530.8,1759v19.4M1539.3,1759v19.4M1543.9,1759v19.4M1568.4,1759v19.4M1620.8,1759v19.4M1653.9,1759v19.4" stroke="#F04848" stroke-width="1.2" fill="none"/>
<path d="M358.6,1759v19.4M364.5,1759v19.4M403.7,1759v19.4M405.2,1759v19.4M407,1759v19.4M424,1759v19.4M428.6,1759v19.4M434.5,1759v19.4M445.7,1759v19.4M1074.8,1759v19.4M1082.4,1759v19.4M1084.8,1759v19.4M1086.8,1759v19.4M1111.2,1759v19.4M1165.1,1759v19.4M1172.8,1759v19.4M1180.8,1759v19.4M1205.4,1759v19.4M1233.2,1759v19.4M1291.1,1759v19.4M1309.9,1759v19.4M1337,1759v19.4M1394.1,1759v19.4M1411.5,1759v19.4M1429.5,1759v19.4M1445.3,1759v19.4M1451.1,1759v19.4M1467.8,1759v19.4M1470.6,1759v19.4M1476.3,1759v19.4M1484.1,1759v19.4M1523.4,1759v19.4M1528.1,1759v19.4M1560.1,1759v19.4M1584.4,1759v19.4M1591,1759v19.4M1605.6,1759v19.4M1617,1759v19.4M1629,1759v19.4M1684.4,1759v19.4M1698.1,1759v19.4M1717.3,1759v19.4" stroke="#FFB040" stroke-width="1.2" fill="none"/>
<path d="M354,1759v19.4M370.5,1759v19.4M422.5,1759v19.4M1089,1759v19.4M1091.1,1759v19.4M1147.1,1759v19.4M1152.5,1759v19.4M1185.7,1759v19.4M1216.5,1759v19.4M1228.4,1759v19.4M1252.6,1759v19.4M1267.2,1759v19.4M1277.2,1759v19.4M1295.9,1759v19.4M1303.1,1759v19.4M1320.4,1759v19.4M1355.6,1759v19.4M1383.5,1759v19.4M1414.6,1759v19.4M1420.4,1759v19.4M1424.4,1759v19.4M1431.8,1759v19.4M1433.9,1759v19.4M1439.3,1759v19.4M1456.3,1759v19.4M1464.4,1759v19.4M1506.7,1759v19.4M1548.5,1759v19.4M1557.9,1759v19.4M1577.5,1759v19.4M1612.6,1759v19.4M1640.1,1759v19.4M1646,1759v19.4M1660.9,1759v19.4M1668.5,1759v19.4M1675.6,1759v19.4M1678.1,1759v19.4M1708.1,1759v19.4M1714.4,1759v19.4" stroke="#48E448" stroke-width="1.2" fill="none"/>
<path d="M350.3,1759v19.4M408.9,1759v19.4M414.8,1759v19.4M436.9,1759v19.4M453.5,1759v19.4M464.5,1759v19.4M1055.3,1759v19.4M1060.1,1759v19.4M1099.1,1759v19.4M1102.4,1759v19.4M1107.3,1759v19.4M1125.7,1759v19.4M1134.5,1759v19.4M1139.4,1759v19.4M1189.2,1759v19.4M1223.4,1759v19.4M1241.4,1759v19.4M1245.7,1759v19.4M1260.9,1759v19.4M1273.6,1759v19.4M1282.7,1759v19.4M1287.9,1759v19.4M1293.5,1759v19.4M1317.6,1759v19.4M1347.2,1759v19.4M1380.4,1759v19.4M1407.4,1759v19.4M1494.9,1759v19.4M1514.3,1759v19.4M1521,1759v19.4M1555.6,1759v19.4M1573.2,1759v19.4M1624.3,1759v19.4M1626.1,1759v19.4M1632.2,1759v19.4M1692.3,1759v19.4M1701.7,1759v19.4" stroke="#4848F0" stroke-width="1.2" fill="none"/>
<path d="M458.6,1784.6v19.4M1065.8,1784.6v19.4M1068.3,1784.6v19.4M1117.9,1784.6v19.4M1131.2,1784.6v19.4M1158.9,1784.6v19.4M1175.2,1784.6v19.4M1209.5,1784.6v19.4M1213.4,1784.6v19.4M1338.9,1784.6v19.4M1376.5,1784.6v19.4M1390,1784.6v19.4M1399.3,1784.6v19.4M1436.3,1784.6v19.4M1442.3,1784.6v19.4M1462.5,1784.6v19.4M1490,1784.6v19.4M1501.6,1784.6v19.4M1530.8,1784.6v19.4M1539.3,1784.6v19.4M1543.9,1784.6v19.4M1568.4,1784.6v19.4M1620.8,1784.6v19.4M1653.9,1784.6v19.4" stroke="#F04848" stroke-width="1.2" fill="none"/>
<path d="M358.6,1784.6v19.4M364.5,1784.6v19.4M403.7,1784.6v19.4M405.2,1784.6v19.4M407,1784.6v19.4M424,1784.6v19.4M428.6,1784.6v19.4M434.5,1784.6v19.4M445.7,1784.6v19.4M1074.8,1784.6v19.4M1082.4,1784.6v19.4M1084.8,1784.6v19.4M1086.8,1784.6v19.4M1111.2,1784.6v19.4M1165.1,1784.6v19.4M1172.8,1784.6v19.4M1180.8,1784.6v19.4M1205.4,1784.6v19.4M1233.2,1784.6v19.4M1291.1,1784.6v19.4M1309.9,1784.6v19.4M1337,1784.6v19.4M1394.1,1784.6v19.4M1411.5,1784.6v19.4M1429.5,1784.6v19.4M1445.3,1784.6v19.4M1451.1,1784.6v19.4M1467.8,1784.6v19.4M1470.6,1784.6v19.4M1476.3,1784.6v19.4M1484.1,1784.6v19.4M1523.4,1784.6v19.4M1528.1,1784.6v19.4M1560.1,1784.6v19.4M1584.4,1784.6v19.4M1591,1784.6v19.4M1605.6,1784.6v19.4M1617,1784.6v19.4M1629,1784.6v19.4M1684.4,1784.6v19.4M1698.1,1784.6v19.4M1717.3,1784.6v19.4" stroke="#FFB040" stroke-width="1.2" fill="none"/>
<path d="M354,1784.6v19.4M370.5,1784.6v19.4M422.5,1784.6v19.4M1089,1784.6v19.4M1091.1,1784.6v19.4M1147.1,1784.6v19.4M1152.5,1784.6v19.4M1185.7,1784.6v19.4M1216.5,1784.6v19.4M1228.4,1784.6v19.4M1252.6,1784.6v19.4M1267.2,1784.6v19.4M1277.2,1784.6v19.4M1295.9,1784.6v19.4M1303.1,1784.6v19.4M1320.4,1784.6v19.4M1355.6,1784.6v19.4M1383.5,1784.6v19.4M1414.6,1784.6v19.4M1420.4,1784.6v19.4M1424.4,1784.6v19.4M1431.8,1784.6v19.4M1433.9,1784.6v19.4M1439.3,1784.6v19.4M1456.3,1784.6v19.4M1464.4,1784.6v19.4M1506.7,1784.6v19.4M1548.5,1784.6v19.4M1557.9,1784.6v19.4M1577.5,1784.6v19.4M1612.6,1784.6v19.4M1640.1,1784.6v19.4M1646,1784.6v19.4M1660.9,1784.6v19.4M1668.5,1784.6v19.4M1675.6,1784.6v19.4M1678.1,1784.6v19.4M1708.1,1784.6v19.4M1714.4,1784.6v19.4" stroke="#48E448" stroke-width="1.2" fill="none"/>
<path d="M350.3,1784.6v19.4M408.9,1784.6v19.4M414.8,1784.6v19.4M436.9,1784.6v19.4M453.5,1784.6v19.4M464.5,1784.6v19.4M1055.3,1784.6v19.4M1060.1,1784.6v19.4M1099.1,1784.6v19.4M1102.4,1784.6v19.4M1107.3,1784.6v19.4M1125.7,1784.6v19.4M1134.5,1784.6v19.4M1139.4,1784.6v19.4M1189.2,1784.6v19.4M1223.4,1784.6v19.4M1241.4,1784.6v19.4M1245.7,1784.6v19.4M1260.9,1784.6v19.4M1273.6,1784.6v19.4M1282.7,1784.6v19.4M1287.9,1784.6v19.4M1293.5,1784.6v19.4M1317.6,1784.6v19.4M1347.2,1784.6v19.4M1380.4,1784.6v19.4M1407.4,1784.6v19.4M1494.9,1784.6v19.4M1514.3,1784.6v19.4M1521,1784.6v19.4M1555.6,1784.6v19.4M1573.2,1784.6v19.4M1624.3,1784.6v19.4M1626.1,1784.6v19.4M1632.2,1784.6v19.4M1692.3,1784.6v19.4M1701.7,1784.6v19.4" stroke="#4848F0" stroke-width="1.2" fill="none"/>
<text x="640.2" y="1475.3" font-size="24.6" text-anchor="start" fill="#000" >NT</text>
<line x1="644.4" y1="1486.6" x2="644.4" y2="1505.6" stroke="#F04848" stroke-width="1.1" />
<text x="655.6" y="1505.6" font-size="24.6" text-anchor="start" fill="#000" >A</text>
<line x1="644.4" y1="1509.6" x2="644.4" y2="1528.6" stroke="#FFB040" stroke-width="1.1" />
<text x="655.6" y="1528.6" font-size="24.6" text-anchor="start" fill="#000" >C</text>
<line x1="644.4" y1="1532.7" x2="644.4" y2="1551.7" stroke="#48E448" stroke-width="1.1" />
<text x="655.6" y="1551.7" font-size="24.6" text-anchor="start" fill="#000" >G</text>
<line x1="644.4" y1="1555.8" x2="644.4" y2="1574.8" stroke="#E4E4E4" stroke-width="1.1" />
<line x1="644.4" y1="1578.8" x2="644.4" y2="1597.8" stroke="#4848F0" stroke-width="1.1" />
<text x="655.6" y="1597.8" font-size="24.6" text-anchor="start" fill="#000" >T</text>
<line x1="257.6" y1="1409.6" x2="271.5" y2="1409.6" stroke="#000" stroke-width="4" />
<text x="246" y="1418.7" font-size="25" text-anchor="end" fill="#000" >EquCab 2.0</text>
<line x1="257.6" y1="1435.2" x2="271.5" y2="1435.2" stroke="#000" stroke-width="4" />
<text x="246" y="1444.3" font-size="25" text-anchor="end" fill="#000" >Arabian</text>
<line x1="257.6" y1="1460.9" x2="271.5" y2="1460.9" stroke="#000" stroke-width="4" />
<text x="246" y="1470" font-size="25" text-anchor="end" fill="#000" >Hanoverian #2</text>
<line x1="257.6" y1="1486.5" x2="271.5" y2="1486.5" stroke="#000" stroke-width="4" />
<text x="246" y="1495.6" font-size="25" text-anchor="end" fill="#000" >Icelandic #2</text>
<line x1="257.6" y1="1512.2" x2="271.5" y2="1512.2" stroke="#000" stroke-width="4" />
<text x="246" y="1521.3" font-size="25" text-anchor="end" fill="#000" >Marwari</text>
<line x1="257.6" y1="1537.8" x2="271.5" y2="1537.8" stroke="#000" stroke-width="4" />
<text x="246" y="1546.9" font-size="25" text-anchor="end" fill="#000" >Sorraia</text>
<line x1="257.6" y1="1563.5" x2="271.5" y2="1563.5" stroke="#000" stroke-width="4" />
<text x="246" y="1572.6" font-size="25" text-anchor="end" fill="#000" >Standardbred</text>
<line x1="257.6" y1="1589.1" x2="271.5" y2="1589.1" stroke="#000" stroke-width="4" />
<text x="246" y="1598.2" font-size="25" text-anchor="end" fill="#000" >Yakutian #1</text>
<line x1="257.6" y1="1614.8" x2="271.5" y2="1614.8" stroke="#000" stroke-width="4" />
<text x="246" y="1623.9" font-size="25" text-anchor="end" fill="#000" >Yakutian #2</text>
<line x1="257.6" y1="1640.4" x2="271.5" y2="1640.4" stroke="#000" stroke-width="4" />
<text x="246" y="1649.5" font-size="25" text-anchor="end" fill="#000" >Yakutian #3</text>
<line x1="257.6" y1="1666.1" x2="271.5" y2="1666.1" stroke="#000" stroke-width="4" />
<text x="246" y="1675.2" font-size="25" text-anchor="end" fill="#000" >Yakutian #4</text>
<line x1="257.6" y1="1691.8" x2="271.5" y2="1691.8" stroke="#000" stroke-width="4" />
<text x="246" y="1700.8" font-size="25" text-anchor="end" fill="#000" >Przewalski&#8217; s horse #1</text>
<line x1="257.6" y1="1717.4" x2="271.5" y2="1717.4" stroke="#000" stroke-width="4" />
<text x="246" y="1726.5" font-size="25" text-anchor="end" fill="#000" >Przewalski&#8217; s horse #2</text>
<line x1="257.6" y1="1743" x2="271.5" y2="1743" stroke="#000" stroke-width="4" />
<text x="246" y="1752.1" font-size="25" text-anchor="end" fill="#000" >Ancient (Batagai)</text>
<line x1="257.6" y1="1768.7" x2="271.5" y2="1768.7" stroke="#000" stroke-width="4" />
<text x="246" y="1777.8" font-size="25" text-anchor="end" fill="#000" >Domestic donkey</text>
<line x1="257.6" y1="1794.3" x2="271.5" y2="1794.3" stroke="#000" stroke-width="4" />
<text x="246" y="1803.4" font-size="25" text-anchor="end" fill="#000" >Onager</text>
<line x1="309.2" y1="1810" x2="309.2" y2="1824" stroke="#000" stroke-width="3.6" />
<text x="309.2" y="1855" font-size="25" text-anchor="middle" fill="#000" >0 M</text>
<line x1="464.9" y1="1810" x2="464.9" y2="1824" stroke="#000" stroke-width="3.6" />
<text x="464.9" y="1855" font-size="25" text-anchor="middle" fill="#000" >1 M</text>
<line x1="620.7" y1="1810" x2="620.7" y2="1824" stroke="#000" stroke-width="3.6" />
<text x="620.7" y="1855" font-size="25" text-anchor="middle" fill="#000" >2 M</text>
<line x1="776.5" y1="1810" x2="776.5" y2="1824" stroke="#000" stroke-width="3.6" />
<text x="776.5" y="1855" font-size="25" text-anchor="middle" fill="#000" >3 M</text>
<line x1="932.2" y1="1810" x2="932.2" y2="1824" stroke="#000" stroke-width="3.6" />
<text x="932.2" y="1855" font-size="25" text-anchor="middle" fill="#000" >4 M</text>
<line x1="1088" y1="1810" x2="1088" y2="1824" stroke="#000" stroke-width="3.6" />
<text x="1088" y="1855" font-size="25" text-anchor="middle" fill="#000" >5 M</text>
<line x1="1243.7" y1="1810" x2="1243.7" y2="1824" stroke="#000" stroke-width="3.6" />
<text x="1243.7" y="1855" font-size="25" text-anchor="middle" fill="#000" >6 M</text>
<line x1="1399.5" y1="1810" x2="1399.5" y2="1824" stroke="#000" stroke-width="3.6" />
<text x="1399.5" y="1855" font-size="25" text-anchor="middle" fill="#000" >7 M</text>
<line x1="1555.2" y1="1810" x2="1555.2" y2="1824" stroke="#000" stroke-width="3.6" />
<text x="1555.2" y="1855" font-size="25" text-anchor="middle" fill="#000" >8 M</text>
<line x1="1711" y1="1810" x2="1711" y2="1824" stroke="#000" stroke-width="3.6" />
<text x="1711" y="1855" font-size="25" text-anchor="middle" fill="#000" >9 M</text>
<text x="1051.7" y="1893.3" font-size="24.6" text-anchor="middle" fill="#000" >eMSYv3 (bp)</text>
<text x="-1.5" y="1408" font-size="41" font-weight="bold">c</text>
<g fill="none" stroke-linecap="butt">
<line x1="72.6" y1="2151.8" x2="116.2" y2="2151.8" stroke="#000" stroke-width="5.0" />
<line x1="116.2" y1="2036.2" x2="116.2" y2="2268.6" stroke="#000" stroke-width="5.0" />
<line x1="114.1" y1="2038.6" x2="486" y2="2038.6" stroke="#000" stroke-width="5.0" />
<line x1="486" y1="1994.2" x2="486" y2="2081.9" stroke="#000" stroke-width="5.0" />
<line x1="484" y1="1996.3" x2="688.9" y2="1996.3" stroke="#000" stroke-width="5.0" />
<line x1="484" y1="2079.8" x2="704" y2="2079.8" stroke="#000" stroke-width="5.0" />
<line x1="114.1" y1="2266.2" x2="684" y2="2266.2" stroke="#0000FF" stroke-width="5.0" />
<line x1="684" y1="2160" x2="684" y2="2371.8" stroke="#0000FF" stroke-width="5.0" />
<line x1="682" y1="2162" x2="704" y2="2162" stroke="#0000FF" stroke-width="5.0" />
<line x1="693.7" y1="2287.4" x2="702" y2="2287.4" stroke="#CC00CC" stroke-width="5.0" />
<polyline points="704.2,2246.2 701.4,2287.4 704.2,2327" stroke="#CC00CC" stroke-width="5.2" fill="none" stroke-linejoin="miter"/>
<line x1="684" y1="2369.8" x2="693" y2="2369.8" stroke="#228B22" stroke-width="5.0" />
<line x1="693.5" y1="2287.1" x2="693.5" y2="2456" stroke="#228B22" stroke-width="5.0" />
<line x1="691" y1="2454" x2="702" y2="2454" stroke="#228B22" stroke-width="5.0" />
<line x1="702" y1="2413" x2="702" y2="2495" stroke="#228B22" stroke-width="5.0" />
</g>
<text x="701" y="2004.5" font-size="24.8" text-anchor="start" fill="#000" >Domestic donkey</text>
<text x="716" y="2088" font-size="24.8" text-anchor="start" fill="#000" >Onager</text>
<text x="716" y="2170" font-size="24.8" text-anchor="start" fill="#0000FF" >Ancient (Batagai)</text>
<text x="716" y="2294.5" font-size="24.8" text-anchor="start" fill="#CC00CC" >Domesticated</text>
<text x="718" y="2421.5" font-size="24.8" text-anchor="start" fill="#228B22" >Przewalski&#8217; s horse #1</text>
<text x="718" y="2504.5" font-size="24.8" text-anchor="start" fill="#228B22" >Przewalski&#8217; s horse #2</text>
<line x1="133.8" y1="2308" x2="251.4" y2="2308" stroke="#000" stroke-width="5.6" />
<text x="262.5" y="2320.4" font-size="33.6" text-anchor="start" fill="#000" >0.0013</text>
<text x="-1.5" y="1966" font-size="42" font-weight="bold">d</text>
<line x1="1046.3" y1="2061.2" x2="1046.3" y2="2486.5" stroke="#CC00CC" stroke-width="4.8" />
<line x1="1044.2" y1="2063.2" x2="1523.5" y2="2063.2" stroke="#CC00CC" stroke-width="4.8" />
<line x1="1523.5" y1="1984.2" x2="1523.5" y2="2146.2" stroke="#CC00CC" stroke-width="4.8" />
<line x1="1521.1" y1="1986.6" x2="1625" y2="1986.6" stroke="#CC00CC" stroke-width="4.8" />
<line x1="1625" y1="1959.6" x2="1625" y2="2014.7" stroke="#CC00CC" stroke-width="4.8" />
<line x1="1622.6" y1="1962" x2="1645.9" y2="1962" stroke="#CC00CC" stroke-width="4.8" />
<line x1="1622.6" y1="2012.3" x2="1645.9" y2="2012.3" stroke="#CC00CC" stroke-width="4.8" />
<line x1="1520.8" y1="2143.8" x2="1543.4" y2="2143.8" stroke="#CC00CC" stroke-width="4.8" />
<line x1="1543.4" y1="2059" x2="1543.4" y2="2227.5" stroke="#CC00CC" stroke-width="4.8" />
<line x1="1541.3" y1="2061" x2="1625.6" y2="2061" stroke="#CC00CC" stroke-width="4.8" />
<line x1="1541.3" y1="2225.4" x2="1564.5" y2="2225.4" stroke="#CC00CC" stroke-width="4.8" />
<line x1="1564.5" y1="2146" x2="1564.5" y2="2305.4" stroke="#CC00CC" stroke-width="4.8" />
<line x1="1562.4" y1="2148" x2="1584.5" y2="2148" stroke="#CC00CC" stroke-width="4.8" />
<line x1="1584.5" y1="2108.6" x2="1584.5" y2="2188" stroke="#CC00CC" stroke-width="4.8" />
<line x1="1582.4" y1="2110.6" x2="1648.8" y2="2110.6" stroke="#CC00CC" stroke-width="4.8" />
<line x1="1582.4" y1="2186" x2="1609.8" y2="2186" stroke="#CC00CC" stroke-width="4.8" />
<line x1="1609.8" y1="2159.2" x2="1609.8" y2="2212.2" stroke="#CC00CC" stroke-width="4.8" />
<line x1="1607.7" y1="2161.2" x2="1630.3" y2="2161.2" stroke="#CC00CC" stroke-width="4.8" />
<line x1="1607.7" y1="2210.2" x2="1648.8" y2="2210.2" stroke="#CC00CC" stroke-width="4.8" />
<line x1="1562.4" y1="2303.4" x2="1585.6" y2="2303.4" stroke="#CC00CC" stroke-width="4.8" />
<line x1="1585.6" y1="2259.2" x2="1585.6" y2="2349.6" stroke="#CC00CC" stroke-width="4.8" />
<line x1="1583.5" y1="2261.2" x2="1628.2" y2="2261.2" stroke="#CC00CC" stroke-width="4.8" />
<line x1="1583.5" y1="2347.6" x2="1605.6" y2="2347.6" stroke="#CC00CC" stroke-width="4.8" />
<line x1="1605.6" y1="2308.7" x2="1605.6" y2="2387" stroke="#CC00CC" stroke-width="4.8" />
<line x1="1603.5" y1="2310.7" x2="1642.4" y2="2310.7" stroke="#CC00CC" stroke-width="4.8" />
<line x1="1603.5" y1="2385" x2="1629.8" y2="2385" stroke="#CC00CC" stroke-width="4.8" />
<line x1="1629.8" y1="2357.7" x2="1629.8" y2="2411.7" stroke="#CC00CC" stroke-width="4.8" />
<line x1="1627.7" y1="2359.7" x2="1650.3" y2="2359.7" stroke="#CC00CC" stroke-width="4.8" />
<line x1="1627.7" y1="2409.7" x2="1653" y2="2409.7" stroke="#CC00CC" stroke-width="4.8" />
<line x1="1044.2" y1="2484.5" x2="1564.5" y2="2484.5" stroke="#CC00CC" stroke-width="4.8" />
<line x1="1564.5" y1="2457.7" x2="1564.5" y2="2510.2" stroke="#CC00CC" stroke-width="4.8" />
<line x1="1562.4" y1="2459.7" x2="1643.5" y2="2459.7" stroke="#CC00CC" stroke-width="4.8" />
<line x1="1562.4" y1="2508.2" x2="1676.7" y2="2508.2" stroke="#CC00CC" stroke-width="4.8" />
<text x="1658.3" y="1970.8" font-size="24.6" text-anchor="start" fill="#CC00CC" >Icelandic #1</text>
<text x="1658.3" y="2021.1" font-size="24.6" text-anchor="start" fill="#CC00CC" >Icelandic #2</text>
<text x="1641" y="2069.8" font-size="24.6" text-anchor="start" fill="#CC00CC" >Yakutian #4</text>
<text x="1663.5" y="2119.4" font-size="24.6" text-anchor="start" fill="#CC00CC" >Sorraia</text>
<text x="1647.7" y="2164.2" font-size="24.6" text-anchor="start" fill="#CC00CC" >Arabian</text>
<text x="1663.5" y="2219" font-size="24.6" text-anchor="start" fill="#CC00CC" >Marwari</text>
<text x="1643.5" y="2270" font-size="24.6" text-anchor="start" fill="#CC00CC" >Yakutian #1</text>
<text x="1654" y="2319.5" font-size="24.6" text-anchor="start" fill="#CC00CC" >Hanoverian #2</text>
<text x="1660.9" y="2368.5" font-size="24.6" text-anchor="start" fill="#CC00CC" >Hanoverian #1</text>
<text x="1664.6" y="2418.5" font-size="24.6" text-anchor="start" fill="#CC00CC" >Standardbred</text>
<text x="1659.3" y="2468.5" font-size="24.6" text-anchor="start" fill="#CC00CC" >Yakutian #3</text>
<text x="1690.9" y="2517" font-size="24.6" text-anchor="start" fill="#CC00CC" >Yakutian #2</text>
<text x="1636" y="1996.1" font-size="24.5" text-anchor="start" fill="#000" >100</text>
<text x="1528" y="2059.3" font-size="24.5" text-anchor="start" fill="#000" >100</text>
<text x="1547.6" y="2140.7" font-size="24.5" text-anchor="start" fill="#000" >64</text>
<text x="1589.8" y="2143.5" font-size="24.5" text-anchor="start" fill="#000" >37</text>
<text x="1614" y="2194.7" font-size="24.5" text-anchor="start" fill="#000" >100</text>
<text x="1571" y="2235.2" font-size="24.5" text-anchor="start" fill="#000" >79</text>
<text x="1590.8" y="2311.5" font-size="24.5" text-anchor="start" fill="#000" >45</text>
<text x="1610.8" y="2357.7" font-size="24.5" text-anchor="start" fill="#000" >100</text>
<text x="1638.2" y="2393.1" font-size="24.5" text-anchor="start" fill="#000" >98</text>
<text x="1052.7" y="2285.7" font-size="24.5" text-anchor="start" fill="#000" >100</text>
<text x="1577.7" y="2493.2" font-size="24.5" text-anchor="start" fill="#CC00CC" >100</text>
<line x1="1163.2" y1="2510.7" x2="1288.7" y2="2510.7" stroke="#000" stroke-width="5.4" />
<text x="1299.5" y="2519" font-size="33.4" text-anchor="start" fill="#000" >6.1e&#8211;06</text>
<text x="1052.5" y="2023.2" font-size="43" font-weight="bold">e</text>
</svg></body></html>
